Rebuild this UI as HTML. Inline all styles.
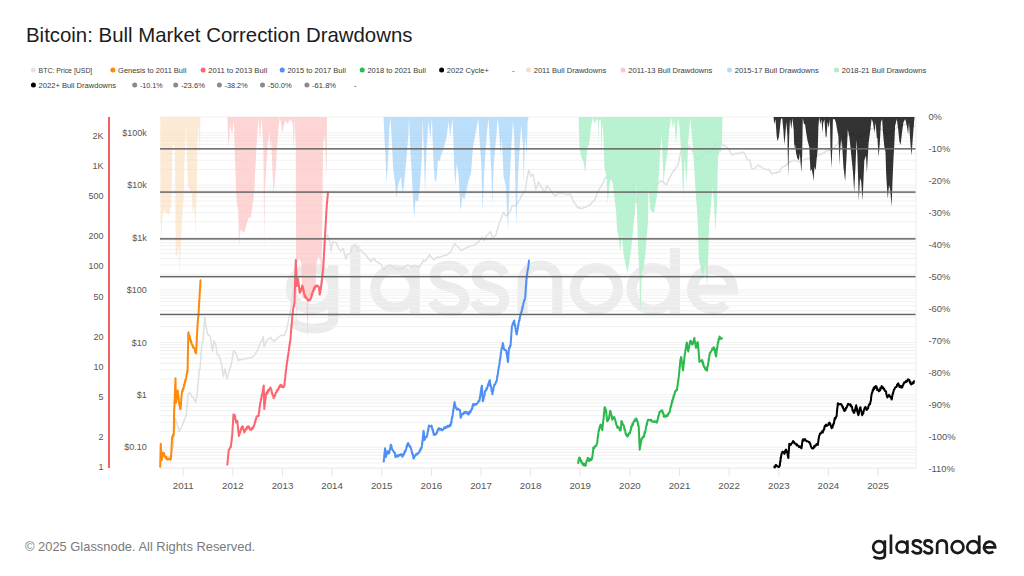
<!DOCTYPE html><html><head><meta charset="utf-8"><style>html,body{margin:0;padding:0;background:#fff;width:1024px;height:576px;overflow:hidden}svg{display:block}text{font-family:"Liberation Sans",sans-serif}</style></head><body>
<svg width="1024" height="576" viewBox="0 0 1024 576">
<text x="26" y="41.5" font-size="20.4" fill="#1c1c1c">Bitcoin: Bull Market Correction Drawdowns</text>
<text x="512" y="73" font-size="8" fill="#444">-</text>
<circle cx="33.4" cy="70" r="2.5" fill="#e3e3e3"/><text x="38.6" y="73" font-size="8" fill="#3a3a3a" textLength="53.7" lengthAdjust="spacingAndGlyphs">BTC: Price [USD]</text>
<circle cx="112.9" cy="70" r="2.5" fill="#fd8a08"/><text x="118.10000000000001" y="73" font-size="8" fill="#3a3a3a" textLength="68.2" lengthAdjust="spacingAndGlyphs">Genesis to 2011 Bull</text>
<circle cx="203.1" cy="70" r="2.5" fill="#fd6670"/><text x="208.29999999999998" y="73" font-size="8" fill="#3a3a3a" textLength="58.8" lengthAdjust="spacingAndGlyphs">2011 to 2013 Bull</text>
<circle cx="282.2" cy="70" r="2.5" fill="#4d8ff5"/><text x="287.4" y="73" font-size="8" fill="#3a3a3a" textLength="58.5" lengthAdjust="spacingAndGlyphs">2015 to 2017 Bull</text>
<circle cx="362.2" cy="70" r="2.5" fill="#2db84d"/><text x="367.4" y="73" font-size="8" fill="#3a3a3a" textLength="58.5" lengthAdjust="spacingAndGlyphs">2018 to 2021 Bull</text>
<circle cx="441.6" cy="70" r="2.5" fill="#000"/><text x="446.8" y="73" font-size="8" fill="#3a3a3a" textLength="42" lengthAdjust="spacingAndGlyphs">2022 Cycle+</text>
<circle cx="528.5" cy="70" r="2.5" fill="#fcdcbc"/><text x="533.7" y="73" font-size="8" fill="#3a3a3a" textLength="72.5" lengthAdjust="spacingAndGlyphs">2011 Bull Drawdowns</text>
<circle cx="623" cy="70" r="2.5" fill="#f9c9c9"/><text x="628.2" y="73" font-size="8" fill="#3a3a3a" textLength="84" lengthAdjust="spacingAndGlyphs">2011-13 Bull Drawdowns</text>
<circle cx="729.5" cy="70" r="2.5" fill="#b5dbfa"/><text x="734.7" y="73" font-size="8" fill="#3a3a3a" textLength="84" lengthAdjust="spacingAndGlyphs">2015-17 Bull Drawdowns</text>
<circle cx="836.5" cy="70" r="2.5" fill="#b0ecc9"/><text x="841.7" y="73" font-size="8" fill="#3a3a3a" textLength="84.5" lengthAdjust="spacingAndGlyphs">2018-21 Bull Drawdowns</text>
<circle cx="33.4" cy="85" r="2.5" fill="#000"/><text x="38.6" y="88" font-size="8" fill="#3a3a3a" textLength="77.4" lengthAdjust="spacingAndGlyphs">2022+ Bull Drawdowns</text>
<circle cx="134.7" cy="85" r="2.5" fill="#8a8a8a"/><text x="139.89999999999998" y="88" font-size="8" fill="#3a3a3a" textLength="22.8" lengthAdjust="spacingAndGlyphs">-10.1%</text>
<circle cx="175.7" cy="85" r="2.5" fill="#8a8a8a"/><text x="180.89999999999998" y="88" font-size="8" fill="#3a3a3a" textLength="24" lengthAdjust="spacingAndGlyphs">-23.6%</text>
<circle cx="219.4" cy="85" r="2.5" fill="#8a8a8a"/><text x="224.6" y="88" font-size="8" fill="#3a3a3a" textLength="23" lengthAdjust="spacingAndGlyphs">-38.2%</text>
<circle cx="262.5" cy="85" r="2.5" fill="#8a8a8a"/><text x="267.7" y="88" font-size="8" fill="#3a3a3a" textLength="24" lengthAdjust="spacingAndGlyphs">-50.0%</text>
<circle cx="306.9" cy="85" r="2.5" fill="#8a8a8a"/><text x="312.09999999999997" y="88" font-size="8" fill="#3a3a3a" textLength="24" lengthAdjust="spacingAndGlyphs">-61.8%</text>
<text x="354" y="88" font-size="8" fill="#444">-</text>
<rect x="108" y="117" width="2" height="351" fill="#f26464"/>
<text x="103.6" y="470.2" font-size="9" fill="#555" text-anchor="end">1</text>
<text x="103.6" y="440.0" font-size="9" fill="#555" text-anchor="end">2</text>
<text x="103.6" y="400.0" font-size="9" fill="#555" text-anchor="end">5</text>
<text x="103.6" y="369.8" font-size="9" fill="#555" text-anchor="end">10</text>
<text x="103.6" y="339.6" font-size="9" fill="#555" text-anchor="end">20</text>
<text x="103.6" y="299.6" font-size="9" fill="#555" text-anchor="end">50</text>
<text x="103.6" y="269.4" font-size="9" fill="#555" text-anchor="end">100</text>
<text x="103.6" y="239.2" font-size="9" fill="#555" text-anchor="end">200</text>
<text x="103.6" y="199.2" font-size="9" fill="#555" text-anchor="end">500</text>
<text x="103.6" y="169.0" font-size="9" fill="#555" text-anchor="end">1K</text>
<text x="103.6" y="138.8" font-size="9" fill="#555" text-anchor="end">2K</text>
<text x="146.8" y="450.4" font-size="9" fill="#555" text-anchor="end">$0.10</text>
<text x="146.8" y="398.0" font-size="9" fill="#555" text-anchor="end">$1</text>
<text x="146.8" y="345.6" font-size="9" fill="#555" text-anchor="end">$10</text>
<text x="146.8" y="293.2" font-size="9" fill="#555" text-anchor="end">$100</text>
<text x="146.8" y="240.8" font-size="9" fill="#555" text-anchor="end">$1k</text>
<text x="146.8" y="188.4" font-size="9" fill="#555" text-anchor="end">$10k</text>
<text x="146.8" y="136.0" font-size="9" fill="#555" text-anchor="end">$100k</text>
<text x="928.4" y="119.7" font-size="9.4" fill="#555">0%</text>
<text x="928.4" y="151.7" font-size="9.4" fill="#555">-10%</text>
<text x="928.4" y="183.8" font-size="9.4" fill="#555">-20%</text>
<text x="928.4" y="215.8" font-size="9.4" fill="#555">-30%</text>
<text x="928.4" y="247.8" font-size="9.4" fill="#555">-40%</text>
<text x="928.4" y="279.9" font-size="9.4" fill="#555">-50%</text>
<text x="928.4" y="311.9" font-size="9.4" fill="#555">-60%</text>
<text x="928.4" y="343.9" font-size="9.4" fill="#555">-70%</text>
<text x="928.4" y="376.0" font-size="9.4" fill="#555">-80%</text>
<text x="928.4" y="408.0" font-size="9.4" fill="#555">-90%</text>
<text x="928.4" y="440.0" font-size="9.4" fill="#555">-100%</text>
<text x="928.4" y="472.1" font-size="9.4" fill="#555">-110%</text>
<rect x="160" y="467.6" width="756" height="1" fill="#e6e6e6"/>
<rect x="182.7" y="468" width="1" height="8" fill="#e6e6e6"/>
<text x="183.2" y="489" font-size="9.7" fill="#555" text-anchor="middle">2011</text>
<rect x="232.3" y="468" width="1" height="8" fill="#e6e6e6"/>
<text x="232.8" y="489" font-size="9.7" fill="#555" text-anchor="middle">2012</text>
<rect x="282.0" y="468" width="1" height="8" fill="#e6e6e6"/>
<text x="282.5" y="489" font-size="9.7" fill="#555" text-anchor="middle">2013</text>
<rect x="331.6" y="468" width="1" height="8" fill="#e6e6e6"/>
<text x="332.1" y="489" font-size="9.7" fill="#555" text-anchor="middle">2014</text>
<rect x="381.2" y="468" width="1" height="8" fill="#e6e6e6"/>
<text x="381.7" y="489" font-size="9.7" fill="#555" text-anchor="middle">2015</text>
<rect x="430.9" y="468" width="1" height="8" fill="#e6e6e6"/>
<text x="431.4" y="489" font-size="9.7" fill="#555" text-anchor="middle">2016</text>
<rect x="480.5" y="468" width="1" height="8" fill="#e6e6e6"/>
<text x="481.0" y="489" font-size="9.7" fill="#555" text-anchor="middle">2017</text>
<rect x="530.1" y="468" width="1" height="8" fill="#e6e6e6"/>
<text x="530.6" y="489" font-size="9.7" fill="#555" text-anchor="middle">2018</text>
<rect x="579.7" y="468" width="1" height="8" fill="#e6e6e6"/>
<text x="580.2" y="489" font-size="9.7" fill="#555" text-anchor="middle">2019</text>
<rect x="629.4" y="468" width="1" height="8" fill="#e6e6e6"/>
<text x="629.9" y="489" font-size="9.7" fill="#555" text-anchor="middle">2020</text>
<rect x="679.0" y="468" width="1" height="8" fill="#e6e6e6"/>
<text x="679.5" y="489" font-size="9.7" fill="#555" text-anchor="middle">2021</text>
<rect x="728.6" y="468" width="1" height="8" fill="#e6e6e6"/>
<text x="729.1" y="489" font-size="9.7" fill="#555" text-anchor="middle">2022</text>
<rect x="778.3" y="468" width="1" height="8" fill="#e6e6e6"/>
<text x="778.8" y="489" font-size="9.7" fill="#555" text-anchor="middle">2023</text>
<rect x="827.9" y="468" width="1" height="8" fill="#e6e6e6"/>
<text x="828.4" y="489" font-size="9.7" fill="#555" text-anchor="middle">2024</text>
<rect x="877.5" y="468" width="1" height="8" fill="#e6e6e6"/>
<text x="878.0" y="489" font-size="9.7" fill="#555" text-anchor="middle">2025</text>
<g fill="none" stroke="#ebebeb" stroke-width="2.8" transform="translate(-2869.9,-1626) scale(3.62,3.5)"><circle cx="879" cy="547" r="5.85"/><path d="M884.85,540.3 V555.6 Q884.85,558.45 879.2,558.45 Q875.6,558.45 873.6,556.6"/><path d="M890.95,534.5 V554"/><circle cx="901.9" cy="547" r="5.45"/><path d="M907.35,540.3 V554"/><path d="M921.3,543 C920.3,541.3 918.8,540.4 916.9,540.4 C914.4,540.4 912.9,541.7 912.9,543.4 C912.9,547.4 921.1,545.6 921.1,550.2 C921.1,552.3 919.3,553.4 917,553.4 C914.8,553.4 913.2,552.4 912.1,550.6"/><path d="M932.2,543 C931.3,541.3 929.9,540.4 928.2,540.4 C925.9,540.4 924.5,541.7 924.5,543.4 C924.5,547.4 932.1,545.6 932.1,550.2 C932.1,552.3 930.4,553.4 928.3,553.4 C926.3,553.4 924.8,552.4 923.8,550.6"/><path d="M937.15,554 V545.3 C937.15,542.2 939.3,540.4 942,540.4 C944.9,540.4 946.75,542.2 946.75,545.3 V554"/><circle cx="957.55" cy="547.1" r="5.95"/><circle cx="973.2" cy="547.1" r="5.95"/><path d="M979.25,535.4 V554"/><path d="M984.1,547.3 H995.2 A5.6,5.6 0 1 0 993.3,551.5"/></g>
<rect x="160" y="116.5" width="756" height="1" fill="#f1f1f1"/>
<rect x="160" y="132.3" width="756" height="1" fill="#f1f1f1"/>
<rect x="160" y="134.7" width="756" height="1" fill="#f1f1f1"/>
<rect x="160" y="137.4" width="756" height="1" fill="#f1f1f1"/>
<rect x="160" y="140.4" width="756" height="1" fill="#f1f1f1"/>
<rect x="160" y="143.9" width="756" height="1" fill="#f1f1f1"/>
<rect x="160" y="148.1" width="756" height="1" fill="#f1f1f1"/>
<rect x="160" y="153.2" width="756" height="1" fill="#f1f1f1"/>
<rect x="160" y="159.7" width="756" height="1" fill="#f1f1f1"/>
<rect x="160" y="168.9" width="756" height="1" fill="#f1f1f1"/>
<rect x="160" y="184.7" width="756" height="1" fill="#f1f1f1"/>
<rect x="160" y="187.1" width="756" height="1" fill="#f1f1f1"/>
<rect x="160" y="189.8" width="756" height="1" fill="#f1f1f1"/>
<rect x="160" y="192.8" width="756" height="1" fill="#f1f1f1"/>
<rect x="160" y="196.3" width="756" height="1" fill="#f1f1f1"/>
<rect x="160" y="200.5" width="756" height="1" fill="#f1f1f1"/>
<rect x="160" y="205.6" width="756" height="1" fill="#f1f1f1"/>
<rect x="160" y="212.1" width="756" height="1" fill="#f1f1f1"/>
<rect x="160" y="221.3" width="756" height="1" fill="#f1f1f1"/>
<rect x="160" y="237.1" width="756" height="1" fill="#f1f1f1"/>
<rect x="160" y="239.5" width="756" height="1" fill="#f1f1f1"/>
<rect x="160" y="242.2" width="756" height="1" fill="#f1f1f1"/>
<rect x="160" y="245.2" width="756" height="1" fill="#f1f1f1"/>
<rect x="160" y="248.7" width="756" height="1" fill="#f1f1f1"/>
<rect x="160" y="252.9" width="756" height="1" fill="#f1f1f1"/>
<rect x="160" y="258.0" width="756" height="1" fill="#f1f1f1"/>
<rect x="160" y="264.5" width="756" height="1" fill="#f1f1f1"/>
<rect x="160" y="273.7" width="756" height="1" fill="#f1f1f1"/>
<rect x="160" y="289.5" width="756" height="1" fill="#f1f1f1"/>
<rect x="160" y="291.9" width="756" height="1" fill="#f1f1f1"/>
<rect x="160" y="294.6" width="756" height="1" fill="#f1f1f1"/>
<rect x="160" y="297.6" width="756" height="1" fill="#f1f1f1"/>
<rect x="160" y="301.1" width="756" height="1" fill="#f1f1f1"/>
<rect x="160" y="305.3" width="756" height="1" fill="#f1f1f1"/>
<rect x="160" y="310.4" width="756" height="1" fill="#f1f1f1"/>
<rect x="160" y="316.9" width="756" height="1" fill="#f1f1f1"/>
<rect x="160" y="326.1" width="756" height="1" fill="#f1f1f1"/>
<rect x="160" y="341.9" width="756" height="1" fill="#f1f1f1"/>
<rect x="160" y="344.3" width="756" height="1" fill="#f1f1f1"/>
<rect x="160" y="347.0" width="756" height="1" fill="#f1f1f1"/>
<rect x="160" y="350.0" width="756" height="1" fill="#f1f1f1"/>
<rect x="160" y="353.5" width="756" height="1" fill="#f1f1f1"/>
<rect x="160" y="357.7" width="756" height="1" fill="#f1f1f1"/>
<rect x="160" y="362.8" width="756" height="1" fill="#f1f1f1"/>
<rect x="160" y="369.3" width="756" height="1" fill="#f1f1f1"/>
<rect x="160" y="378.5" width="756" height="1" fill="#f1f1f1"/>
<rect x="160" y="394.3" width="756" height="1" fill="#f1f1f1"/>
<rect x="160" y="396.7" width="756" height="1" fill="#f1f1f1"/>
<rect x="160" y="399.4" width="756" height="1" fill="#f1f1f1"/>
<rect x="160" y="402.4" width="756" height="1" fill="#f1f1f1"/>
<rect x="160" y="405.9" width="756" height="1" fill="#f1f1f1"/>
<rect x="160" y="410.1" width="756" height="1" fill="#f1f1f1"/>
<rect x="160" y="415.2" width="756" height="1" fill="#f1f1f1"/>
<rect x="160" y="421.7" width="756" height="1" fill="#f1f1f1"/>
<rect x="160" y="430.9" width="756" height="1" fill="#f1f1f1"/>
<rect x="160" y="446.7" width="756" height="1" fill="#f1f1f1"/>
<rect x="160" y="449.1" width="756" height="1" fill="#f1f1f1"/>
<rect x="160" y="451.8" width="756" height="1" fill="#f1f1f1"/>
<rect x="160" y="454.8" width="756" height="1" fill="#f1f1f1"/>
<rect x="160" y="458.3" width="756" height="1" fill="#f1f1f1"/>
<rect x="160" y="462.5" width="756" height="1" fill="#f1f1f1"/>
<polyline points="160.2,462.0 160.6,460.8 161.0,459.6 161.4,459.2 161.8,457.5 162.2,457.0 162.6,455.8 163.0,455.0 163.8,455.2 164.5,456.5 165.2,456.7 166.0,458.0 167.0,457.7 168.0,457.0 169.0,456.8 170.0,457.0 170.3,455.9 170.6,455.3 171.0,453.4 171.3,452.5 171.6,452.0 171.9,451.3 172.2,449.8 172.6,448.6 172.9,448.2 173.2,446.6 173.3,445.1 173.4,445.0 173.4,443.3 173.5,442.2 173.6,441.1 173.7,440.4 173.8,440.0 173.9,438.2 173.9,437.7 174.0,436.8 174.1,435.4 174.2,434.7 174.3,433.1 174.3,432.1 174.4,431.2 174.5,430.8 174.6,429.5 174.7,428.4 174.8,427.7 174.8,426.5 174.9,425.4 175.0,425.0 175.1,423.8 175.2,422.3 175.3,421.7 175.3,420.6 175.4,420.1 175.5,418.6 175.8,419.9 176.1,420.3 176.4,422.2 176.7,422.1 177.0,423.5 177.3,424.9 177.5,425.2 177.8,426.6 178.1,427.0 178.4,428.8 178.7,429.9 179.0,430.7 179.3,431.6 179.7,431.1 180.2,429.4 180.6,428.9 181.1,427.8 181.5,426.8 181.9,425.7 182.4,425.2 182.8,423.8 183.2,423.4 183.6,421.8 184.0,421.1 184.3,419.4 184.7,419.2 185.1,418.1 185.5,417.5 185.9,416.4 186.2,415.0 186.3,413.7 186.4,412.8 186.5,412.1 186.6,410.3 186.7,409.8 186.8,408.4 186.9,407.3 186.9,406.2 187.0,406.0 187.1,404.2 187.2,403.3 187.3,402.4 187.4,402.0 187.5,400.0 187.6,399.4 187.7,398.5 187.7,397.9 187.8,396.8 187.9,395.8 188.0,394.3 188.8,393.2 189.7,392.6 190.3,393.4 190.8,394.1 191.4,395.6 191.9,396.6 192.5,396.5 193.0,397.3 193.6,398.3 194.1,399.1 194.7,400.3 195.2,401.3 195.8,402.0 196.0,400.7 196.1,399.4 196.3,398.8 196.4,397.8 196.6,397.0 196.7,396.4 196.9,395.1 197.0,393.9 197.2,393.0 197.3,392.0 197.5,390.8 197.6,389.2 197.7,389.2 197.8,388.0 197.9,387.1 197.9,386.0 198.0,384.4 198.1,383.4 198.2,382.0 198.3,381.6 198.4,379.9 198.5,378.8 198.6,378.0 198.7,376.9 198.8,376.0 198.9,374.7 198.9,373.6 199.0,372.7 199.1,371.6 199.2,370.9 199.3,370.0 200.0,368.8 200.1,367.1 200.2,367.1 200.2,365.8 200.3,364.2 200.4,363.3 200.5,362.3 200.5,361.3 200.6,360.0 200.7,359.8 200.8,358.9 200.8,357.3 200.9,356.2 201.0,354.7 201.1,353.7 201.1,353.0 201.2,351.8 201.3,351.5 201.4,349.6 201.4,348.4 201.5,348.5 201.6,346.9 201.8,345.9 202.0,344.5 202.2,344.0 202.3,342.4 202.5,342.0 202.7,341.5 202.9,340.4 203.1,339.0 203.2,338.2 203.3,336.6 203.3,335.7 203.4,334.4 203.5,334.1 203.6,332.8 203.6,332.1 203.7,330.5 203.8,329.3 203.9,329.0 203.9,328.2 204.0,327.0 204.1,325.9 204.2,324.8 204.2,323.7 204.3,322.1 204.4,321.4 204.5,320.1 204.5,318.7 204.6,317.7 204.7,317.2 204.8,317.9 205.0,318.9 205.1,320.4 205.3,321.7 205.4,322.1 205.5,323.7 205.7,324.7 205.8,325.7 206.0,326.0 206.1,326.8 206.2,328.1 206.5,328.8 206.8,329.8 207.0,330.9 207.3,332.4 207.5,333.8 207.8,334.4 209.0,335.6 210.2,335.9 210.4,336.9 210.5,338.2 210.7,339.4 210.8,339.6 211.0,341.3 211.1,342.7 211.3,343.6 211.4,344.6 211.6,345.3 211.7,346.0 211.9,347.8 212.0,348.3 212.2,349.9 212.3,351.1 212.5,351.6 212.6,350.5 212.8,349.5 212.9,349.1 213.1,347.9 213.2,346.2 213.4,345.2 213.5,344.2 213.7,344.1 213.8,343.0 214.0,341.2 214.1,340.6 214.6,342.0 215.1,343.3 215.6,343.8 215.7,344.9 215.9,345.6 216.0,346.8 216.2,347.3 216.3,348.1 216.5,350.3 216.6,350.9 216.8,351.7 216.9,353.2 217.1,353.6 217.2,354.7 218.8,354.7 219.0,356.1 219.3,357.1 219.6,357.3 219.9,358.4 220.2,359.4 220.5,360.3 220.8,361.7 221.0,362.3 221.3,363.5 221.6,364.2 221.9,365.6 222.0,367.1 222.2,367.4 222.3,368.5 222.4,369.7 222.6,371.1 222.7,371.5 222.9,373.1 223.0,373.6 223.1,374.6 223.3,375.6 223.4,376.6 223.6,375.0 223.8,374.6 224.0,373.3 224.2,372.1 224.4,372.1 224.6,370.3 224.8,369.7 225.0,368.8 225.2,370.0 225.4,370.8 225.6,371.6 225.8,372.8 225.9,373.9 226.1,375.2 226.3,375.4 226.5,376.9 226.7,377.6 226.9,378.9 227.2,377.6 227.5,377.2 227.8,375.9 228.0,375.0 228.3,374.2 228.6,373.4 228.9,371.9 229.2,370.9 229.5,370.1 229.8,369.0 230.1,368.0 230.4,367.3 230.7,366.0 231.0,365.1 231.2,364.1 231.4,363.1 231.6,362.6 231.8,361.3 232.0,360.5 232.2,359.5 232.3,357.7 232.5,357.0 232.7,356.4 232.9,355.3 233.1,353.4 233.2,352.4 233.4,351.8 233.6,350.8 234.4,351.1 235.1,352.0 235.9,353.1 236.2,353.6 236.5,355.3 236.8,356.4 237.1,357.5 237.4,357.6 237.7,359.2 238.0,360.1 238.3,360.9 239.4,359.7 240.6,359.4 241.8,359.7 242.9,359.6 244.1,358.5 245.3,358.6 246.5,358.9 247.7,358.1 248.8,358.0 250.0,357.8 251.0,358.0 251.9,357.4 252.9,356.2 253.9,356.2 254.5,355.3 255.0,354.5 255.6,353.4 256.1,352.3 256.7,351.6 257.2,351.2 257.8,350.0 258.2,348.4 258.6,348.1 259.0,347.0 259.4,345.5 259.7,344.9 260.1,344.3 260.5,343.2 260.9,342.2 261.3,340.8 261.7,340.9 262.1,339.8 262.5,339.1 262.9,337.1 263.3,336.7 263.4,337.4 263.5,338.2 263.5,340.1 263.6,340.5 263.7,341.4 263.8,342.7 263.9,344.3 263.9,345.2 264.0,345.6 264.1,346.9 264.5,345.5 265.0,345.4 265.4,343.9 265.9,343.1 266.3,341.3 266.8,340.3 267.2,339.8 268.2,339.3 269.3,338.2 270.3,337.5 271.1,337.8 271.9,339.6 272.6,340.0 273.4,341.0 274.2,341.4 275.0,340.1 275.8,340.3 276.5,338.5 277.3,338.7 278.1,337.5 279.2,336.7 280.2,335.8 281.2,335.2 282.3,335.3 283.3,335.7 284.4,335.2 284.9,333.8 285.3,332.6 285.8,331.9 286.2,330.5 286.7,329.7 286.9,328.2 287.1,327.2 287.4,326.0 287.6,325.2 287.8,324.3 288.0,323.2 288.2,322.7 288.5,321.1 288.7,320.3 288.9,318.9 289.1,318.1 289.3,316.6 289.6,315.9 289.8,314.6 290.0,314.1 290.1,313.4 290.3,312.1 290.4,310.7 290.6,310.0 290.7,309.6 290.9,307.6 291.0,307.4 291.1,306.0 291.3,305.0 291.4,304.4 291.6,302.9 291.7,302.0 291.9,301.2 292.0,300.0 292.1,299.6 292.3,297.8 292.4,297.4 292.5,296.2 292.7,295.2 292.8,293.9 292.9,292.8 293.1,291.5 293.2,290.6 293.3,289.5 293.5,289.3 293.6,287.7 293.7,286.6 293.9,285.5 294.0,285.0 294.1,284.4 294.2,283.4 294.2,282.2 294.3,280.7 294.4,279.7 294.5,278.8 294.5,278.0 294.6,276.6 294.7,275.9 294.8,274.7 294.9,274.6 294.9,273.6 295.0,272.1 295.1,270.7 295.2,270.6 295.3,268.8 295.3,267.8 295.4,266.4 295.5,265.9 295.6,265.0 295.6,264.0 295.7,262.6 295.8,262.0 295.9,263.0 296.0,263.4 296.1,264.7 296.2,265.5 296.3,266.9 296.4,267.5 296.4,268.4 296.5,269.8 296.6,270.7 296.7,272.1 296.8,273.0 296.9,274.3 297.0,275.0 297.2,276.2 297.4,277.3 297.6,278.5 297.8,278.9 298.0,279.8 298.2,281.6 298.4,281.6 298.6,283.3 298.8,284.2 299.0,284.5 299.2,286.4 299.4,287.5 299.6,288.2 299.8,289.3 300.0,290.0 300.8,291.0 301.7,290.9 302.5,292.0 303.3,292.7 304.2,293.7 305.0,294.0 306.0,294.8 307.0,295.2 308.0,295.3 309.0,296.1 310.0,296.0 310.5,295.3 311.0,294.4 311.5,292.9 312.0,291.8 312.5,291.0 313.0,290.3 313.5,289.1 314.0,289.1 314.5,287.8 315.0,287.0 315.5,286.1 316.0,285.0 316.7,286.1 317.3,286.7 318.0,286.9 318.7,288.7 319.3,289.5 320.0,290.0 320.1,289.0 320.3,288.0 320.4,287.2 320.5,285.5 320.7,285.3 320.8,283.7 320.9,282.5 321.1,281.7 321.2,281.3 321.3,279.6 321.5,279.3 321.6,278.6 321.7,277.0 321.9,275.9 322.0,275.0 322.1,274.2 322.3,273.3 322.4,272.1 322.5,271.2 322.7,269.5 322.8,268.6 322.9,267.7 323.1,267.3 323.2,266.0 323.3,264.8 323.3,264.1 323.4,262.4 323.5,261.5 323.5,260.7 323.6,260.2 323.7,259.2 323.8,258.2 323.8,256.7 323.9,256.0 324.0,255.0 324.0,254.0 324.1,252.5 324.2,252.5 324.2,250.6 324.3,250.6 324.4,249.5 324.4,247.4 324.5,247.0 324.6,246.4 324.7,245.6 324.7,243.9 324.8,242.7 324.9,241.7 324.9,241.5 325.0,240.0 325.5,238.6 326.0,238.0 326.5,236.4 327.0,235.8 327.5,234.8 327.8,236.3 328.1,236.3 328.5,238.1 328.8,238.7 329.1,240.1 329.5,240.9 329.8,241.3 330.1,242.6 330.2,244.2 330.3,244.7 330.4,245.3 330.6,246.3 330.7,248.0 330.8,249.0 330.9,249.9 331.0,251.2 331.2,249.8 331.4,248.9 331.6,247.8 331.8,247.4 332.0,245.3 332.2,245.2 332.4,244.2 332.6,242.3 332.8,241.7 333.9,242.5 335.1,242.6 336.2,242.6 336.6,244.1 337.1,244.3 337.5,245.4 337.9,246.5 338.4,248.2 338.8,248.6 339.4,249.6 340.0,250.2 340.6,251.2 341.5,250.3 342.3,249.2 343.2,248.6 343.5,249.1 343.7,250.2 344.0,252.1 344.2,252.5 344.5,254.3 344.8,254.5 345.0,255.6 345.3,256.9 345.5,257.6 345.8,259.0 346.2,257.8 346.6,257.4 347.1,256.2 347.5,254.7 348.4,254.5 349.2,253.7 350.1,253.0 350.5,252.5 350.8,251.5 351.2,250.1 351.6,249.3 352.0,247.5 352.3,247.3 352.7,246.0 353.6,245.4 354.4,245.2 355.3,244.3 355.7,245.5 356.2,246.1 356.6,246.8 357.0,248.9 357.5,248.9 357.9,250.4 359.1,250.4 360.2,250.2 361.4,250.4 362.3,251.0 363.1,252.4 364.0,253.6 364.9,253.9 365.6,254.5 366.3,255.8 366.9,256.2 367.6,257.4 368.3,258.2 368.9,258.9 369.6,259.6 370.2,260.4 370.9,261.7 371.5,260.5 372.2,260.4 372.9,259.1 373.5,258.2 374.4,258.7 375.2,260.4 376.1,261.4 377.0,261.7 377.9,262.3 378.8,262.6 379.6,263.4 380.5,263.9 381.4,265.1 381.8,266.0 382.2,266.7 382.7,267.9 383.1,269.0 383.5,270.3 384.2,269.5 384.9,269.0 385.5,268.0 386.2,266.7 386.9,265.9 388.1,265.5 389.2,265.3 390.4,265.0 391.3,265.5 392.1,266.2 393.0,266.5 393.9,267.7 395.1,268.0 396.2,269.4 397.4,269.4 398.4,268.8 399.5,269.0 400.5,269.0 401.6,269.1 402.6,268.5 403.5,267.6 404.3,267.1 405.2,266.4 406.1,266.0 406.9,265.5 407.8,265.0 408.9,266.1 410.1,266.6 411.2,266.8 412.4,266.9 413.6,265.6 414.7,265.9 415.7,265.5 416.8,266.5 417.8,266.9 418.9,266.6 419.9,266.8 420.4,265.9 420.9,264.2 421.4,263.7 421.9,263.4 422.4,262.3 422.9,261.3 423.4,259.9 424.7,260.9 426.0,260.7 426.6,259.4 427.2,258.2 427.8,257.3 428.3,256.7 428.9,255.9 429.5,254.7 430.2,256.1 430.9,256.7 431.6,257.5 432.4,258.5 433.1,259.0 433.8,259.9 434.7,259.3 435.6,258.0 436.4,258.3 437.3,257.3 438.3,256.8 439.4,257.4 440.4,256.9 441.5,256.3 442.5,256.4 443.5,255.6 444.6,255.4 445.6,255.5 446.7,255.2 447.7,254.7 448.6,253.3 449.4,252.4 450.3,252.1 451.2,251.2 451.6,250.3 452.1,249.1 452.5,247.9 452.9,247.4 453.4,245.7 453.8,245.1 454.2,244.3 454.6,243.4 455.5,244.8 456.4,245.3 457.3,246.0 458.0,247.3 458.7,247.7 459.3,248.3 460.0,249.1 460.7,250.3 461.8,250.4 462.9,249.7 464.0,248.8 465.1,248.6 466.1,247.5 467.2,247.6 468.2,247.2 469.3,246.4 470.3,246.0 471.5,245.4 472.6,245.5 473.8,245.5 475.0,244.6 475.9,243.6 476.8,242.7 477.6,242.5 478.5,242.0 479.1,241.0 479.6,240.5 480.2,239.0 480.8,238.9 481.3,238.0 481.9,236.8 482.5,238.0 483.1,238.8 483.7,240.3 484.3,240.0 484.9,238.3 485.4,238.1 486.0,236.5 486.6,235.6 487.2,235.1 488.1,234.5 488.9,233.1 489.8,233.0 490.6,231.6 490.9,232.6 491.1,233.2 491.4,234.2 491.6,235.4 491.9,236.7 492.1,238.1 492.4,238.5 493.2,237.2 494.1,236.7 494.9,235.6 495.8,235.1 496.1,234.7 496.4,232.6 496.7,231.5 497.0,230.5 497.3,229.9 497.6,229.5 497.8,228.4 498.1,227.2 498.4,226.5 498.7,225.5 499.0,223.7 499.3,222.9 499.7,221.6 500.1,221.5 500.5,220.4 500.9,218.6 501.3,218.4 501.6,217.1 502.0,216.1 502.4,215.1 502.8,214.0 503.2,212.8 503.6,212.5 504.3,213.1 504.9,214.1 505.6,215.7 506.2,216.0 507.1,214.7 508.0,214.8 508.8,213.0 509.7,212.5 510.1,211.3 510.4,210.9 510.8,209.9 511.2,208.5 511.6,207.0 511.9,206.6 512.3,205.6 513.5,205.4 514.6,206.1 515.8,205.6 516.4,204.3 517.0,203.7 517.5,203.4 518.1,201.5 518.7,201.1 519.3,200.3 519.8,199.6 520.3,198.5 520.9,196.6 521.4,195.6 521.9,195.1 522.5,193.7 523.0,193.9 523.6,192.2 524.2,191.9 524.8,191.2 525.4,189.9 525.5,188.7 525.6,187.6 525.8,187.4 525.9,186.0 526.1,184.6 526.2,184.1 526.4,182.6 526.5,181.6 526.7,180.2 526.8,180.1 527.0,179.3 527.1,177.8 527.3,176.8 527.6,176.1 527.8,173.9 528.1,173.0 528.3,172.2 528.6,171.7 528.8,170.0 529.1,171.5 529.4,171.9 529.7,172.7 530.0,173.9 530.3,175.0 530.6,176.0 531.5,175.9 532.3,174.5 533.2,174.3 533.4,175.7 533.5,176.7 533.7,177.8 533.9,178.8 534.1,179.6 534.2,180.3 534.4,181.4 534.6,182.5 534.8,184.0 534.9,184.2 535.1,185.4 535.3,187.1 535.5,187.5 535.6,188.3 535.8,189.9 536.1,188.4 536.4,188.0 536.8,186.8 537.1,186.6 537.4,185.5 537.8,184.6 538.1,182.8 538.4,182.1 538.9,182.5 539.4,183.4 540.0,184.7 540.5,185.9 541.0,186.5 541.6,187.4 542.1,188.2 542.7,189.4 543.3,190.6 543.8,191.7 544.4,192.5 544.8,191.8 545.1,190.9 545.5,189.7 545.9,188.1 546.3,188.0 546.6,186.3 547.0,185.6 547.6,186.6 548.3,187.2 548.9,188.5 549.5,188.7 550.1,189.7 550.8,190.5 551.4,191.7 552.1,192.1 552.8,193.9 553.5,194.4 554.2,194.9 554.9,196.0 555.8,195.3 556.6,195.4 557.5,194.3 558.4,193.3 559.2,193.5 560.1,192.5 561.1,193.0 562.2,193.8 563.2,193.1 564.3,193.9 565.3,194.3 566.5,194.6 567.6,194.6 568.8,194.6 570.0,194.0 570.5,194.4 571.0,195.7 571.4,196.4 571.9,197.5 572.4,199.4 572.8,199.9 573.3,201.3 573.8,201.7 574.4,202.5 575.1,204.0 575.7,204.5 576.3,205.2 577.0,206.8 577.6,207.4 578.6,208.2 579.5,207.4 580.5,208.3 581.5,208.4 582.8,208.2 584.0,207.4 585.3,207.4 586.2,206.8 587.2,206.0 588.1,205.6 589.1,205.5 589.8,204.5 590.5,204.2 591.2,203.5 592.0,202.3 592.7,201.4 593.4,201.0 594.1,200.7 594.8,199.8 595.2,198.5 595.6,197.7 595.9,196.6 596.3,196.3 596.7,195.1 597.1,193.5 597.5,192.6 597.8,192.0 598.2,191.2 598.6,190.2 599.2,189.4 599.8,187.8 600.4,186.9 601.0,186.6 601.6,185.3 602.2,184.2 602.8,183.3 603.4,182.6 603.7,181.9 604.1,179.8 604.4,178.8 605.3,178.2 606.2,177.2 607.1,176.6 608.0,176.0 608.8,177.2 609.6,178.2 610.4,178.2 611.2,178.8 612.0,180.0 612.8,180.9 613.6,180.8 614.4,181.2 615.2,182.9 616.0,183.0 616.7,183.7 617.3,185.1 618.0,185.4 618.7,186.8 619.3,187.1 620.0,188.0 620.8,188.2 621.6,188.6 622.4,189.9 623.2,190.6 624.0,191.0 625.0,192.0 626.0,191.5 627.0,192.6 628.0,193.0 628.6,191.8 629.2,191.0 629.8,189.6 630.4,188.7 631.0,188.0 631.5,187.0 632.0,186.5 632.5,184.5 633.0,184.0 633.2,185.0 633.5,186.4 633.8,187.6 634.0,187.6 634.2,188.6 634.5,190.5 634.8,191.6 635.0,192.0 635.1,193.0 635.3,193.5 635.4,195.5 635.5,195.9 635.7,197.5 635.8,198.1 636.0,199.4 636.1,199.6 636.2,201.3 636.4,201.7 636.5,203.0 636.7,201.9 636.9,201.4 637.1,200.4 637.4,198.6 637.6,197.7 637.8,196.9 638.0,196.0 638.6,195.0 639.2,193.9 639.8,192.5 640.4,191.7 641.0,191.0 641.8,190.7 642.6,190.3 643.4,188.6 644.2,188.7 645.0,188.0 646.0,188.6 647.0,187.9 648.0,189.2 649.0,189.0 650.0,187.9 651.0,187.8 652.0,187.0 653.0,186.9 654.0,186.8 655.0,186.4 655.7,185.5 656.4,184.9 657.1,184.4 657.9,183.5 658.6,183.0 659.3,182.1 660.0,181.3 660.7,180.7 661.7,180.8 662.6,182.1 663.6,182.6 664.6,182.9 665.5,184.2 666.5,184.5 667.0,183.9 667.5,182.5 667.9,181.2 668.4,180.6 668.9,179.2 669.4,178.3 669.8,177.7 670.3,176.3 670.8,175.8 671.2,174.9 671.7,173.4 672.2,173.0 672.8,172.3 673.5,170.8 674.1,170.7 674.7,170.0 675.4,168.8 676.0,167.4 676.6,167.1 677.3,166.1 677.9,165.4 678.1,164.9 678.3,162.9 678.6,162.7 678.8,161.9 679.0,160.5 679.2,159.6 679.5,157.8 679.7,157.7 679.9,156.1 680.1,155.6 680.4,154.6 680.6,152.6 680.8,152.0 681.1,151.4 681.4,150.6 681.8,148.6 682.1,148.0 682.4,147.6 682.7,146.3 683.8,146.5 684.9,147.9 686.0,148.0 687.1,147.2 688.3,147.2 689.4,146.3 690.0,146.8 690.7,148.2 691.4,149.6 692.0,150.0 692.4,150.6 692.9,151.7 693.3,153.0 693.7,153.8 694.1,154.4 694.6,155.6 695.0,157.0 695.8,157.3 696.5,159.0 697.2,159.5 698.0,160.0 698.8,159.9 699.6,158.4 700.4,158.5 701.2,157.1 702.0,157.0 702.6,156.2 703.1,155.4 703.7,154.3 704.3,154.0 704.9,152.8 705.4,152.0 706.0,151.0 707.0,152.0 708.0,151.5 709.0,153.1 710.0,153.0 710.5,152.3 711.0,151.1 711.5,150.7 712.0,149.2 712.5,149.2 713.0,147.8 713.5,146.7 714.0,146.0 714.6,145.3 715.2,143.9 715.8,142.6 716.4,142.3 717.0,141.0 718.0,141.0 719.0,142.0 719.9,143.0 720.9,143.0 721.8,144.1 722.8,145.1 723.7,145.2 724.7,146.0 725.6,146.4 726.5,147.1 727.4,147.7 728.3,149.2 728.9,149.5 729.5,150.6 730.1,152.0 730.7,152.7 731.3,153.6 731.9,155.0 732.5,155.4 733.4,154.3 734.4,153.7 735.3,153.3 736.3,153.7 737.3,153.1 738.4,153.2 739.4,154.0 740.3,153.2 741.3,152.2 742.2,152.0 743.1,152.5 744.1,153.0 745.0,154.0 745.4,155.2 745.8,156.3 746.3,157.0 746.7,158.6 747.1,159.6 748.5,159.9 749.9,160.3 750.1,160.9 750.4,162.9 750.6,163.1 750.9,164.0 751.1,165.0 751.4,166.7 751.6,168.0 751.9,168.6 753.3,168.9 754.7,168.6 755.6,167.6 756.5,166.6 757.3,165.4 758.2,165.1 759.1,165.8 760.0,166.2 760.8,166.5 761.7,167.2 762.8,168.1 764.0,168.5 765.1,169.3 766.3,169.8 767.4,169.6 768.6,169.3 769.2,169.8 769.8,171.4 770.4,171.2 770.9,172.6 771.5,173.3 772.1,174.2 773.3,173.4 774.4,172.7 775.6,172.8 776.6,173.0 777.7,171.9 778.7,172.3 779.7,172.1 780.1,171.6 780.5,169.7 781.0,168.8 781.4,168.3 781.8,167.2 782.8,166.8 783.8,166.5 784.7,166.3 785.7,165.1 786.7,165.1 787.5,164.1 788.3,163.2 789.2,162.1 790.0,162.3 790.8,161.0 791.8,161.2 792.9,160.9 794.0,159.9 795.0,160.3 796.0,161.0 797.1,161.2 798.1,161.2 799.2,161.9 800.2,161.9 801.2,161.3 802.2,160.6 803.2,159.9 804.2,159.6 805.2,159.4 806.2,158.6 807.2,158.7 808.3,158.9 809.3,158.6 810.3,158.1 811.3,158.3 812.3,157.8 813.4,157.0 814.4,157.1 815.4,156.8 816.4,156.2 817.4,156.1 818.5,155.3 819.5,154.5 820.5,154.3 821.5,154.0 822.5,153.8 823.5,152.4 824.5,152.7 825.5,151.7 826.5,150.8 827.5,150.8 828.4,150.5 829.4,150.5 830.4,150.2 831.3,149.8 832.2,148.9 833.2,147.8 834.1,147.8 835.1,146.7 835.9,145.5 836.7,144.5 837.4,144.3 838.2,142.9 839.1,142.2 839.9,141.4 840.8,140.3 841.7,139.8 842.5,139.4 843.4,138.1 844.3,137.8 845.1,137.0 846.0,136.0 847.0,135.9 848.0,134.9 849.0,134.8 850.0,134.1 851.0,133.3 852.0,133.0 852.9,133.4 853.7,134.6 854.6,134.6 855.4,136.4 856.3,136.1 857.1,136.7 858.0,138.0 859.0,137.0 860.0,137.5 861.0,136.3 862.0,135.6 863.0,134.9 864.0,135.0 864.8,133.7 865.5,133.7 866.2,132.9 867.0,132.2 867.8,131.5 868.5,130.0 869.2,129.9 870.0,129.0 871.0,128.7 872.0,129.0 873.0,128.9 874.0,128.8 875.0,127.6 876.0,128.0 877.0,128.8 878.0,129.2 879.0,129.5 880.0,128.9 881.0,129.3 882.0,130.0 882.9,130.1 883.7,130.6 884.6,132.1 885.4,132.7 886.3,133.0 887.1,133.8 888.0,134.0 888.9,133.6 889.7,132.6 890.6,131.8 891.4,131.2 892.3,131.5 893.1,130.2 894.0,130.0 894.9,129.2 895.7,128.8 896.6,127.7 897.4,127.4 898.3,126.9 899.1,126.8 900.0,126.0 901.0,125.5 902.0,125.1 903.0,125.6 904.0,124.7 905.0,124.8 906.0,124.0 907.0,124.6 908.0,124.4 909.0,125.4 910.0,125.9 911.0,126.8 912.0,127.0 913.0,126.5 914.0,126.6 915.0,126.0" fill="none" stroke="#e0e0e0" stroke-width="1.5" stroke-linejoin="round"/>
<polygon points="160.2,117.0 160.5,215.0 161.2,248.0 162.0,222.0 163.2,211.0 165.8,212.0 167.5,213.9 169.3,214.7 171.0,206.0 171.9,180.0 172.3,150.0 173.5,141.0 174.8,150.0 175.4,200.0 175.7,259.9 178.8,246.0 179.7,274.6 181.1,237.3 182.3,214.7 183.7,197.4 184.5,160.0 185.5,135.0 186.2,124.0 187.0,160.0 188.0,186.0 190.0,190.0 191.9,195.0 192.7,214.7 194.5,206.0 195.3,237.3 197.0,180.0 197.5,140.0 198.5,125.0 200.0,160.0 200.3,120.0 200.5,117.0" fill="#fce1c3" fill-opacity="0.7"/>
<polygon points="227.3,117.0 228.7,150.0 230.0,125.6 232.2,134.3 233.9,120.4 234.8,155.1 236.5,198.5 238.2,212.4 239.1,246.2 240.5,229.7 242.6,231.5 244.3,233.2 246.0,226.3 248.6,217.6 250.9,217.6 252.1,208.9 253.9,195.0 254.7,182.9 256.5,144.7 258.5,117.0 260.0,139.5 261.7,117.0 263.4,150.0 264.3,248.8 264.8,190.0 266.0,170.8 267.7,144.7 269.5,130.8 270.3,150.0 271.2,139.5 272.0,158.6 273.5,195.0 275.6,170.8 278.2,130.8 279.9,117.0 282.5,132.6 285.1,120.4 287.7,123.9 290.3,118.7 292.9,123.9 293.8,153.4 294.7,117.0 295.8,150.0 296.2,341.0 297.0,264.0 299.0,258.0 301.5,264.0 302.0,298.0 304.0,298.0 306.5,300.0 307.7,343.0 308.5,297.0 312.0,294.0 315.5,290.0 316.2,264.0 318.5,256.0 320.5,262.0 321.5,280.0 322.5,200.0 323.0,150.0 324.0,135.0 325.0,140.0 326.5,177.8 327.0,117.0" fill="#fcc3c3" fill-opacity="0.7"/>
<polygon points="383.6,117.0 384.5,138.6 385.5,157.7 386.5,183.5 388.0,161.6 389.3,129.1 390.3,117.6 391.8,138.6 393.1,167.3 395.0,182.6 396.4,197.9 398.3,184.5 400.8,176.8 402.7,194.0 404.6,178.8 406.5,157.7 408.4,134.8 409.0,117.6 410.3,148.2 411.7,173.0 413.2,201.7 414.2,218.9 415.5,199.8 418.0,201.7 419.9,186.4 421.8,157.7 422.7,117.6 424.3,167.3 425.0,192.1 426.6,148.2 428.5,121.5 430.4,138.6 431.9,117.6 433.3,157.7 434.6,178.8 436.1,182.6 438.0,159.7 439.9,161.6 440.9,155.8 443.8,148.2 446.6,136.7 448.5,121.5 450.4,136.7 452.3,117.6 453.4,138.6 454.2,167.3 455.3,186.4 456.7,163.5 458.6,175.0 460.5,211.2 462.4,196.0 464.3,199.8 467.2,186.4 469.1,178.8 471.0,173.0 472.9,148.2 475.8,131.0 476.0,131.4 478.2,118.5 479.2,133.5 481.4,165.8 482.5,211.0 484.2,172.3 486.8,133.5 488.5,118.5 490.0,144.3 491.5,176.6 492.4,204.6 493.7,165.8 496.5,133.5 497.5,118.5 498.6,125.0 500.8,155.0 501.8,137.8 503.6,176.6 506.1,187.3 507.9,230.4 509.4,187.3 511.5,144.3 513.0,120.6 514.3,137.8 515.4,183.0 516.3,226.1 518.0,176.6 520.1,140.0 521.2,125.0 522.9,144.3 523.8,183.0 525.1,133.5 526.6,155.0 527.7,120.6 528.7,117.0" fill="#9ed0f9" fill-opacity="0.7"/>
<polygon points="578.6,117.0 579.5,148.2 581.5,157.7 583.4,161.6 585.3,173.0 587.2,148.2 589.1,144.4 591.0,127.2 592.9,117.6 594.8,124.0 596.7,119.0 598.2,121.0 598.6,148.2 599.1,121.0 600.8,119.0 601.5,157.7 602.2,124.0 603.2,130.0 604.4,167.3 606.3,176.8 607.8,203.6 609.2,186.4 611.1,176.8 613.0,184.5 614.9,201.7 616.0,210.0 617.0,229.1 618.9,238.6 620.2,252.0 621.7,234.8 623.6,253.9 625.2,262.5 627.5,273.0 629.4,261.6 631.3,248.2 633.2,229.1 635.1,210.0 635.9,182.6 637.0,210.0 638.0,248.2 639.3,271.1 640.3,314.1 641.8,273.0 643.7,267.3 645.0,257.7 646.6,238.6 648.1,221.5 648.3,186.4 650.4,210.0 654.0,213.1 656.9,196.0 658.4,182.6 659.8,157.7 661.7,134.8 662.6,157.7 663.6,186.4 664.5,173.0 665.5,165.4 667.4,153.9 669.3,129.1 671.2,117.6 673.1,129.1 674.1,117.6 676.0,144.4 677.9,117.6 679.8,129.1 681.7,163.5 683.3,197.9 684.6,157.7 686.5,184.5 688.4,138.6 690.3,117.6 692.2,138.6 694.2,167.3 695.5,190.2 697.0,210.0 698.1,231.2 698.9,259.4 700.5,267.2 702.8,276.6 705.2,265.6 707.2,286.0 708.3,254.7 709.1,223.4 710.3,212.5 711.4,200.0 712.3,186.4 713.8,200.0 715.3,231.2 716.9,206.2 718.0,157.7 719.9,150.0 721.0,153.0 722.0,140.0 722.4,117.0" fill="#acf0c8" fill-opacity="0.85"/>
<polygon points="773.6,116.9 774.2,124.2 775.5,119.3 776.7,136.3 777.5,141.2 778.8,137.5 779.7,130.2 780.9,119.3 782.2,118.0 783.4,130.2 784.3,144.8 785.2,136.3 786.4,121.7 787.4,136.3 788.2,176.4 789.2,136.3 790.0,119.3 791.3,129.0 792.5,118.0 793.7,130.2 794.3,149.7 794.9,143.6 796.1,153.3 797.3,158.2 798.9,160.6 799.8,153.3 801.4,172.8 802.2,154.5 802.8,118.0 804.0,124.2 805.0,124.0 806.2,132.7 807.4,140.0 809.3,147.2 809.9,160.6 810.5,171.5 811.7,169.1 812.9,175.2 813.5,181.3 814.5,166.7 815.7,170.3 816.5,160.6 817.8,148.5 818.4,126.6 819.3,116.9 820.2,124.2 821.4,119.3 822.6,132.7 823.2,122.9 824.4,119.3 825.7,137.5 826.6,136.3 827.5,121.7 828.7,127.8 829.9,119.3 830.5,148.5 831.5,167.9 832.3,148.5 832.9,119.3 834.8,119.3 836.0,122.9 837.2,130.2 838.4,136.3 839.6,165.5 840.2,140.0 840.9,152.0 841.7,138.0 843.5,167.6 845.2,181.4 846.6,155.4 847.8,129.4 849.5,138.0 851.3,155.4 853.0,172.8 854.2,191.9 855.6,164.0 856.5,139.8 857.4,155.4 858.8,200.5 860.0,178.0 861.2,181.4 862.6,200.5 864.3,160.6 866.0,155.4 866.9,172.8 868.6,143.2 870.4,129.4 871.6,119.0 873.0,122.4 874.4,132.8 875.6,122.4 876.8,138.0 877.4,138.0 878.6,157.1 879.8,143.2 880.9,122.4 882.1,119.0 883.0,132.8 884.3,146.7 885.5,152.0 886.1,172.8 886.8,184.9 887.8,198.8 889.0,184.9 890.2,190.1 891.6,206.6 892.5,181.4 893.4,160.6 894.2,146.7 895.1,125.9 896.8,119.0 898.2,129.4 899.4,141.5 900.6,145.0 902.0,132.8 903.4,122.4 905.2,119.0 906.9,125.9 908.1,134.6 909.0,122.4 910.4,143.2 911.6,155.4 912.8,138.0 914.2,120.7 914.6,117.0" fill="#000000" fill-opacity="0.8"/>
<polyline points="160.2,467.2 160.2,465.7 160.2,466.8 160.2,466.0 160.3,464.2 160.3,464.2 160.3,463.5 160.3,463.4 160.3,463.1 160.3,460.8 160.3,460.1 160.3,461.4 160.4,459.8 160.4,460.0 160.4,457.6 160.4,458.1 160.4,458.1 160.4,456.3 160.4,457.5 160.4,456.8 160.5,454.1 160.5,453.5 160.5,454.1 160.5,454.5 160.5,452.5 160.5,451.5 160.5,451.4 160.5,449.9 160.6,449.7 160.6,449.7 160.6,449.2 160.6,448.0 160.6,447.4 160.6,446.7 160.6,446.7 160.6,445.7 160.7,444.5 160.7,445.8 160.7,444.5 160.7,443.8 160.7,444.8 160.8,444.3 160.8,446.8 160.8,447.1 160.9,445.9 160.9,447.1 160.9,448.6 161.0,449.2 161.0,450.3 161.0,449.7 161.1,451.3 161.1,451.5 161.1,451.3 161.2,452.6 161.2,453.9 161.2,454.4 161.3,454.2 161.3,455.0 161.3,454.3 161.4,455.4 161.4,457.3 161.4,457.0 161.5,457.1 161.5,458.6 161.5,459.6 161.6,460.1 161.6,460.3 161.7,459.4 161.9,459.0 162.0,458.5 162.1,458.6 162.3,457.4 162.4,456.4 162.5,456.1 162.6,454.4 162.8,453.8 162.9,454.8 163.0,454.9 163.2,453.3 163.3,452.5 163.6,452.9 163.9,452.9 164.2,454.3 164.5,456.1 164.8,456.2 165.1,456.3 165.4,456.8 165.8,458.1 166.3,457.0 166.7,458.1 167.1,459.6 167.6,459.2 168.0,459.4 168.6,459.1 169.2,458.5 169.8,459.0 170.4,459.8 171.0,458.5 171.0,456.7 171.1,458.0 171.1,457.5 171.1,457.0 171.2,456.1 171.2,455.6 171.2,454.3 171.2,453.8 171.3,452.9 171.3,451.4 171.3,452.8 171.4,451.4 171.4,449.9 171.4,450.1 171.5,449.4 171.5,448.5 171.5,447.9 171.5,447.7 171.6,447.3 171.6,446.7 171.6,445.7 171.7,444.1 171.7,444.0 171.7,443.3 171.8,443.6 171.8,443.7 171.8,442.9 171.8,442.3 171.9,441.8 171.9,439.8 171.9,440.6 172.0,439.6 172.0,438.6 172.2,437.0 172.5,436.2 172.8,435.5 173.0,436.7 173.2,434.9 173.5,433.9 173.8,434.2 173.8,433.9 173.8,432.6 173.8,431.3 173.8,430.9 173.8,431.2 173.8,429.7 173.8,429.4 173.8,429.8 173.8,428.6 173.9,427.7 173.9,427.4 173.9,425.7 173.9,426.0 173.9,425.4 173.9,424.3 173.9,423.5 173.9,424.8 173.9,423.2 173.9,421.9 174.0,422.2 174.0,422.1 174.0,419.6 174.0,419.0 174.0,418.7 174.0,419.4 174.0,417.5 174.0,418.2 174.0,417.5 174.0,416.6 174.1,415.2 174.1,416.4 174.1,415.3 174.1,414.1 174.1,413.4 174.1,412.1 174.1,412.5 174.2,411.3 174.2,411.2 174.2,409.9 174.2,410.1 174.3,408.1 174.3,408.1 174.3,409.1 174.3,408.2 174.4,406.3 174.4,407.0 174.4,405.1 174.4,406.0 174.5,404.9 174.5,403.5 174.5,402.5 174.5,401.3 174.6,402.8 174.6,400.2 174.6,401.5 174.6,401.2 174.7,399.6 174.7,398.1 174.7,399.2 174.7,398.8 174.8,397.6 174.8,396.5 174.8,395.6 174.8,394.9 174.8,393.9 174.9,394.5 174.9,393.3 174.9,392.1 174.9,391.3 175.0,392.0 175.0,390.5 175.0,390.4 175.0,389.4 175.1,390.1 175.1,389.5 175.1,386.8 175.1,386.7 175.2,386.4 175.2,387.3 175.2,386.2 175.2,384.6 175.3,383.7 175.3,384.2 175.3,384.0 175.3,383.6 175.4,381.6 175.4,382.2 175.4,381.2 175.4,380.1 175.5,380.7 175.5,378.3 175.5,378.3 175.5,379.4 175.5,378.5 175.5,379.3 175.5,381.7 175.5,380.6 175.5,382.5 175.6,382.8 175.6,383.9 175.6,383.4 175.6,383.9 175.6,384.4 175.6,386.4 175.6,386.4 175.6,387.8 175.6,388.3 175.6,387.1 175.6,388.7 175.6,388.2 175.6,388.6 175.6,389.3 175.7,391.8 175.7,392.2 175.7,392.9 175.7,392.4 175.7,393.6 175.7,394.6 175.7,394.3 175.7,395.3 175.7,395.1 175.7,395.4 175.7,396.4 175.7,398.5 175.7,398.3 175.7,399.8 175.8,399.3 175.8,399.5 175.8,401.3 175.8,402.0 175.8,400.6 175.8,402.8 175.8,403.0 175.9,401.4 176.0,400.9 176.1,402.1 176.2,399.5 176.2,399.3 176.3,400.5 176.4,398.5 176.5,397.2 176.6,396.7 176.7,396.3 176.8,396.9 176.9,394.7 177.0,396.1 177.1,394.2 177.2,395.0 177.2,394.2 177.3,392.1 177.4,391.4 177.5,391.4 177.6,390.8 177.7,390.4 177.7,392.4 177.8,391.5 177.9,392.0 178.0,395.0 178.0,393.9 178.1,395.3 178.2,395.5 178.3,395.8 178.3,395.8 178.4,398.4 178.5,399.2 178.6,399.8 178.6,398.3 178.7,399.2 178.8,400.8 178.9,402.2 178.9,401.8 179.0,402.7 179.1,403.3 179.2,402.9 179.2,404.2 179.3,404.7 179.5,404.9 179.6,405.3 179.8,405.5 180.0,406.6 180.2,408.9 180.3,408.3 180.5,409.0 180.6,408.8 180.6,408.1 180.7,408.2 180.7,406.3 180.8,405.5 180.8,404.9 180.9,404.3 180.9,405.0 181.0,404.5 181.0,402.5 181.1,401.9 181.1,401.8 181.2,401.3 181.2,400.7 181.3,399.3 181.3,398.1 181.4,398.1 181.4,397.0 181.5,397.6 181.5,395.8 181.6,395.2 181.6,396.0 181.7,394.5 181.7,395.1 181.8,393.8 181.8,394.1 181.9,392.6 182.1,391.2 182.3,391.4 182.5,391.6 182.7,389.3 182.8,390.8 183.0,388.3 183.2,389.2 183.4,389.1 183.6,387.4 183.8,387.6 183.9,385.7 184.1,384.6 184.3,384.9 184.4,385.3 184.6,383.2 184.8,384.0 184.9,381.6 185.1,382.8 185.2,380.1 185.4,380.1 185.6,380.9 185.7,380.1 185.9,378.7 186.0,379.1 186.1,378.3 186.3,377.4 186.4,376.7 186.5,374.8 186.6,374.8 186.8,373.5 186.9,374.2 187.0,373.5 187.1,371.9 187.2,370.8 187.4,372.4 187.5,371.4 187.6,370.0 187.6,369.5 187.6,368.9 187.6,369.0 187.6,367.5 187.7,366.7 187.7,366.0 187.7,365.2 187.7,364.1 187.7,365.0 187.7,363.8 187.7,363.6 187.7,361.7 187.7,361.9 187.8,360.7 187.8,360.1 187.8,359.8 187.8,360.6 187.8,359.0 187.8,358.4 187.8,358.3 187.8,356.8 187.8,355.6 187.9,356.3 187.9,355.6 187.9,355.4 187.9,354.3 187.9,354.2 187.9,353.8 187.9,352.0 187.9,352.0 187.9,351.3 188.0,350.1 188.0,350.0 188.0,349.7 188.0,350.0 188.0,349.4 188.0,347.3 188.0,347.6 188.0,345.5 188.1,345.0 188.1,345.4 188.1,345.7 188.1,343.4 188.1,344.2 188.1,343.9 188.1,341.9 188.1,342.3 188.1,342.0 188.2,340.3 188.2,340.5 188.2,340.0 188.2,339.0 188.2,339.1 188.2,338.6 188.2,338.1 188.2,336.6 188.2,335.0 188.3,334.6 188.3,333.9 188.3,334.2 188.3,334.0 188.3,332.8 188.5,332.3 188.7,334.4 188.9,335.1 189.1,334.8 189.2,335.8 189.4,335.6 189.6,337.6 189.8,336.5 190.0,339.4 190.2,339.5 190.4,339.7 190.6,339.4 190.7,341.6 190.9,342.3 191.1,340.9 191.3,343.1 191.5,343.0 191.8,344.4 192.1,344.5 192.3,345.1 192.6,345.1 192.9,346.8 193.2,347.5 193.4,346.6 193.7,348.2 194.0,348.0 194.2,348.4 194.5,348.4 194.7,349.3 194.9,349.5 195.2,351.9 195.4,352.6 195.6,351.2 195.9,353.0 196.1,353.3 196.1,352.5 196.2,351.2 196.2,351.0 196.2,350.3 196.2,350.9 196.3,348.5 196.3,348.3 196.3,348.3 196.4,346.7 196.4,347.6 196.4,346.9 196.5,346.9 196.5,344.8 196.5,344.4 196.5,344.4 196.6,343.1 196.6,343.3 196.6,341.9 196.7,342.3 196.7,342.0 196.7,341.4 196.8,341.2 196.8,339.6 196.8,338.8 196.8,339.1 196.9,338.3 196.9,337.2 196.9,336.2 197.0,335.3 197.0,334.3 197.0,335.4 197.1,333.1 197.1,334.0 197.1,332.9 197.1,333.3 197.2,332.2 197.2,332.2 197.2,329.5 197.3,329.8 197.3,329.4 197.3,328.2 197.4,328.0 197.4,327.1 197.4,326.9 197.4,325.0 197.5,325.5 197.5,325.0 197.6,324.3 197.6,323.3 197.7,322.9 197.7,323.2 197.8,322.4 197.8,321.3 197.9,321.1 197.9,319.8 198.0,318.8 198.1,317.7 198.1,317.7 198.2,317.9 198.2,318.0 198.3,317.2 198.3,315.9 198.4,316.4 198.4,314.5 198.5,314.0 198.5,314.2 198.6,312.6 198.6,312.8 198.6,312.8 198.7,310.5 198.7,309.6 198.8,310.1 198.8,309.3 198.8,308.3 198.9,306.8 198.9,307.1 198.9,306.6 199.0,306.0 199.0,306.5 199.0,305.2 199.1,305.0 199.1,304.8 199.1,303.8 199.2,302.6 199.2,302.6 199.2,301.7 199.3,301.2 199.3,300.5 199.4,299.4 199.4,299.3 199.4,298.7 199.5,298.8 199.5,297.9 199.5,297.4 199.6,296.6 199.6,296.2 199.6,295.1 199.7,293.8 199.7,293.0 199.8,293.5 199.8,293.3 199.8,291.9 199.9,290.4 199.9,291.4 199.9,290.0 200.0,289.3 200.0,287.7 200.0,288.2 200.1,288.2 200.1,286.8 200.1,286.1 200.2,286.2 200.2,284.0 200.2,284.6 200.3,285.1 200.3,283.9 200.4,282.6 200.4,282.7 200.4,281.9 200.5,280.3 200.5,280.4" fill="none" stroke="#fd8a08" stroke-width="2" stroke-linejoin="round"/>
<polyline points="227.3,465.1 227.4,463.6 227.4,464.7 227.5,463.9 227.5,462.1 227.6,462.1 227.7,461.4 227.7,461.3 227.8,461.0 227.8,458.7 227.9,458.0 227.9,459.3 228.0,457.7 228.1,457.9 228.1,455.5 228.2,456.0 228.2,456.0 228.3,454.2 228.3,455.4 228.4,454.7 228.5,452.0 228.5,451.4 228.6,452.0 228.6,452.4 228.7,450.7 229.0,449.8 229.4,448.9 229.8,448.8 230.1,447.3 230.5,447.2 230.8,447.3 230.9,446.5 230.9,446.1 231.0,444.8 231.1,444.2 231.2,443.6 231.2,443.5 231.3,442.5 231.4,441.3 231.4,442.6 231.5,441.3 231.6,440.9 231.6,439.2 231.7,440.6 231.8,439.6 231.8,437.2 231.9,437.1 232.0,437.5 232.1,436.8 232.1,436.8 232.2,435.1 232.2,434.3 232.3,434.7 232.3,433.7 232.4,432.2 232.4,432.3 232.4,432.3 232.5,431.6 232.5,430.2 232.5,429.8 232.6,427.9 232.6,427.8 232.7,428.5 232.7,426.9 232.7,425.8 232.8,426.0 232.8,425.8 232.8,425.1 232.9,423.8 232.9,423.3 233.0,422.9 233.0,422.9 233.0,421.7 233.1,420.8 233.1,420.4 233.2,418.7 233.2,418.1 233.2,419.1 233.3,419.1 233.3,417.6 233.3,416.5 233.4,415.3 233.4,415.5 233.5,416.1 233.5,414.3 234.2,415.3 234.8,415.1 234.9,415.8 235.0,417.2 235.1,416.3 235.2,417.6 235.3,419.3 235.5,419.1 235.6,419.4 235.7,419.6 235.8,420.9 235.9,422.5 236.0,422.0 236.7,420.4 237.4,421.2 237.5,422.5 237.5,423.2 237.6,424.0 237.6,424.2 237.7,425.0 237.7,424.9 237.8,425.7 237.8,426.0 237.9,425.7 238.0,428.3 238.0,428.2 238.1,427.9 238.1,429.2 238.2,429.8 238.2,430.1 238.3,430.7 238.4,431.8 238.4,432.6 238.5,433.2 238.5,433.4 238.6,433.0 238.6,434.1 238.7,434.6 238.8,436.0 238.9,435.6 239.1,435.7 239.3,435.0 239.5,434.4 239.7,433.9 239.9,431.9 240.1,432.8 240.3,431.8 240.5,430.8 240.8,429.2 241.0,428.5 241.3,428.0 241.6,429.2 241.8,427.4 242.1,426.6 242.3,427.2 242.6,426.4 242.8,426.6 242.9,426.6 243.1,427.4 243.3,428.9 243.4,428.7 243.6,429.5 243.8,431.2 244.0,431.2 244.1,431.5 244.3,432.5 244.6,431.9 244.9,430.2 245.3,430.6 245.6,430.1 245.9,429.0 246.2,428.2 246.5,429.6 246.8,428.1 247.2,426.8 247.5,427.2 247.8,426.4 248.2,427.7 248.5,426.2 248.9,426.7 249.3,427.6 249.7,429.4 250.0,428.6 250.4,429.9 250.8,430.0 251.3,429.5 251.7,428.7 252.2,427.5 252.6,428.9 253.0,428.0 253.5,426.9 253.9,426.4 254.1,425.1 254.2,425.6 254.4,424.4 254.6,424.2 254.7,423.0 254.9,423.2 255.0,421.2 255.2,421.2 255.4,422.2 255.5,421.4 255.7,419.4 255.8,420.1 256.0,418.2 256.2,419.1 256.3,418.1 256.5,416.9 257.2,416.4 257.8,415.7 258.5,416.0 258.6,414.2 258.7,415.7 258.8,413.0 258.8,414.3 258.9,414.0 259.0,412.5 259.1,410.9 259.2,411.9 259.3,411.6 259.4,410.3 259.4,409.2 259.5,408.3 259.6,407.6 259.7,406.6 259.8,407.1 259.9,405.9 260.0,404.7 260.0,403.9 260.1,404.6 260.2,403.1 260.3,403.0 260.4,402.4 260.6,401.4 260.7,402.1 260.8,401.5 260.9,398.8 261.1,398.6 261.2,398.3 261.3,399.3 261.5,398.2 261.6,396.5 261.7,395.6 261.9,396.1 262.0,395.9 262.1,395.5 262.2,393.4 262.4,394.1 262.5,392.6 262.6,392.4 262.7,391.3 262.8,391.9 263.0,389.4 263.1,390.0 263.2,387.8 263.3,387.4 263.4,388.5 263.5,386.2 263.6,386.9 263.8,385.6 263.8,386.4 263.8,387.6 263.8,387.1 263.8,387.6 263.8,388.1 263.8,390.1 263.8,390.0 263.9,391.5 263.9,391.9 263.9,390.7 263.9,392.3 263.9,391.9 263.9,392.3 263.9,393.0 264.0,395.5 264.0,395.9 264.0,396.6 264.0,396.0 264.0,397.3 264.0,398.3 264.0,397.9 264.1,399.0 264.1,398.7 264.1,399.0 264.1,400.0 264.1,402.1 264.1,402.0 264.1,403.4 264.2,402.9 264.2,403.1 264.2,404.9 264.2,405.6 264.2,404.2 264.2,406.4 264.2,405.6 264.3,406.3 264.3,408.7 264.3,407.3 264.3,409.0 264.4,407.8 264.4,408.9 264.5,407.0 264.6,405.6 264.7,405.1 264.7,404.7 264.8,405.3 264.9,403.1 264.9,404.5 265.0,402.6 265.1,403.4 265.1,402.6 265.2,400.5 265.3,399.8 265.4,399.8 265.4,398.2 265.5,399.0 265.6,396.9 265.6,396.2 265.7,397.9 265.8,395.6 265.9,395.8 265.9,394.8 266.0,394.3 266.3,393.3 266.7,392.2 267.0,393.7 267.3,393.3 267.7,392.8 268.0,390.2 268.3,389.9 268.6,390.3 269.0,390.7 269.3,389.1 269.6,388.9 270.0,388.3 270.3,387.4 270.5,387.4 270.7,388.7 270.9,388.7 271.1,389.1 271.3,389.3 271.5,390.3 271.7,392.6 271.9,391.9 272.1,393.0 272.2,393.5 272.4,394.8 272.6,394.1 272.8,394.4 273.0,395.1 273.2,395.6 273.4,397.5 273.6,398.2 273.8,397.8 274.1,396.7 274.4,396.2 274.7,396.2 275.0,395.7 275.2,395.1 275.5,393.7 275.8,392.6 276.1,392.6 276.4,392.6 276.7,391.0 276.9,391.6 277.2,390.0 277.5,389.4 277.7,390.2 278.0,388.9 278.3,389.5 278.6,388.3 278.8,388.6 279.1,386.4 279.4,386.7 279.6,386.8 279.9,385.6 280.5,384.7 281.1,386.9 281.7,385.2 282.4,386.8 283.0,387.4 283.6,387.1 284.2,386.5 284.3,385.5 284.3,384.3 284.4,384.7 284.5,385.1 284.5,382.9 284.6,383.8 284.7,381.4 284.7,382.6 284.8,379.9 284.9,379.9 284.9,380.7 285.0,379.9 285.1,379.5 285.1,378.8 285.2,377.9 285.3,377.2 285.3,375.3 285.4,375.3 285.5,374.1 285.5,374.8 285.6,374.1 285.7,372.5 285.7,371.4 285.8,372.9 285.9,372.0 285.9,370.7 286.0,370.0 286.1,369.5 286.2,369.6 286.3,368.1 286.3,367.3 286.4,366.6 286.5,365.8 286.6,364.7 286.7,365.6 286.8,364.4 286.9,364.2 286.9,362.3 287.0,362.5 287.1,361.3 287.2,360.7 287.3,360.4 287.4,361.2 287.5,359.6 287.6,359.0 287.6,358.9 287.7,357.4 287.8,356.2 287.9,356.9 288.0,356.2 288.1,356.0 288.2,354.9 288.2,354.8 288.3,354.4 288.4,352.6 288.5,352.6 288.6,351.9 288.7,350.7 288.8,350.6 288.8,350.3 288.9,350.6 289.0,350.0 289.1,347.9 289.2,348.2 289.3,346.1 289.4,345.6 289.5,346.0 289.5,346.3 289.6,344.0 289.7,344.8 289.8,344.5 289.9,342.5 290.0,342.9 290.1,342.6 290.1,340.9 290.2,341.1 290.3,340.6 290.4,339.4 290.4,339.0 290.5,339.0 290.5,338.5 290.6,338.1 290.6,336.5 290.7,335.0 290.8,334.6 290.8,333.9 290.8,334.1 290.9,334.0 290.9,331.7 291.0,332.6 291.1,332.0 291.1,330.5 291.1,330.3 291.2,328.9 291.2,329.6 291.3,327.4 291.3,329.0 291.4,328.0 291.4,327.0 291.5,325.5 291.6,326.4 291.6,326.0 291.6,323.4 291.7,324.3 291.8,323.9 291.8,322.8 291.9,322.3 291.9,321.1 291.9,321.6 292.0,320.0 292.1,320.5 292.1,318.5 292.2,318.9 292.2,317.3 292.3,316.1 292.4,315.8 292.4,314.7 292.5,316.0 292.6,315.5 292.6,312.8 292.7,313.4 292.8,312.3 292.8,311.0 292.9,310.8 292.9,310.0 293.0,310.0 293.1,310.0 293.3,307.6 293.4,307.4 293.5,307.4 293.7,305.8 293.8,306.7 294.0,306.0 294.1,305.9 294.2,303.8 294.4,303.4 294.5,303.3 294.5,302.8 294.5,301.6 294.6,301.7 294.6,300.3 294.6,300.7 294.6,300.4 294.6,299.8 294.6,299.6 294.7,298.0 294.7,297.3 294.7,297.5 294.7,296.7 294.7,295.7 294.8,294.6 294.8,293.8 294.8,292.7 294.8,293.8 294.8,291.6 294.8,292.5 294.9,291.4 294.9,291.8 294.9,290.7 294.9,290.6 294.9,288.0 295.0,288.3 295.0,287.8 295.0,286.6 295.0,286.5 295.0,285.5 295.0,285.3 295.1,283.5 295.1,283.9 295.1,283.3 295.1,282.4 295.1,282.0 295.1,282.3 295.2,281.5 295.2,280.4 295.2,280.2 295.2,279.0 295.2,277.9 295.3,276.9 295.3,276.9 295.3,277.1 295.3,277.2 295.3,276.4 295.3,275.1 295.4,275.6 295.4,273.7 295.4,274.0 295.4,272.4 295.4,272.6 295.5,272.6 295.5,270.4 295.5,269.4 295.5,269.9 295.5,269.1 295.5,268.1 295.6,266.6 295.6,267.0 295.6,266.4 295.6,265.8 295.6,266.3 295.7,265.0 295.7,264.8 295.7,264.6 295.7,263.6 295.7,262.4 295.7,262.4 295.8,261.5 295.8,261.0 295.8,260.0 295.8,260.9 295.8,261.0 295.9,262.1 295.9,262.7 295.9,264.1 295.9,264.3 296.0,265.1 296.0,265.5 296.0,266.2 296.0,266.3 296.1,266.3 296.1,266.7 296.1,268.4 296.1,269.4 296.1,269.2 296.2,268.8 296.2,271.1 296.2,270.8 296.2,271.4 296.3,271.0 296.3,272.7 296.3,273.9 296.3,273.7 296.4,274.2 296.4,275.5 296.4,274.6 296.4,276.3 296.5,278.0 296.5,278.0 296.5,277.9 296.5,279.2 296.5,279.6 296.6,279.3 296.6,279.9 296.6,282.1 296.6,281.2 296.7,281.4 296.7,283.8 296.7,283.6 296.7,283.9 296.8,284.8 296.8,286.0 296.8,286.0 296.9,284.6 297.0,285.1 297.1,284.6 297.2,284.2 297.3,282.3 297.5,282.4 297.6,280.9 297.7,281.1 297.8,279.5 297.9,280.3 298.0,279.0 298.1,280.5 298.2,279.8 298.2,280.1 298.3,282.5 298.4,282.5 298.5,283.5 298.5,282.1 298.6,284.8 298.7,284.7 298.8,284.6 298.9,285.5 298.9,286.9 299.0,287.5 299.1,286.7 299.2,288.4 299.3,287.9 299.3,290.4 299.4,289.7 299.5,291.5 299.6,291.6 299.6,291.9 299.7,291.7 299.8,292.9 300.0,292.4 300.2,290.9 300.4,290.3 300.7,291.1 300.9,289.7 301.1,290.1 301.3,288.3 301.5,288.8 301.8,288.2 302.0,286.7 302.2,285.6 302.4,286.0 302.6,286.4 302.7,287.2 302.9,286.9 303.0,287.7 303.2,288.0 303.3,289.9 303.5,291.2 303.6,290.2 303.8,290.4 303.9,292.6 304.1,293.5 304.2,294.5 304.4,294.2 304.5,294.2 304.7,296.0 304.8,294.9 305.0,296.4 305.4,297.4 305.7,296.4 306.1,297.7 306.5,298.4 306.9,298.6 307.2,298.6 307.6,299.9 308.2,299.3 308.9,300.7 309.6,299.8 310.2,299.9 310.4,299.5 310.6,298.0 310.8,298.7 311.0,297.2 311.1,297.2 311.3,297.4 311.5,297.0 311.7,294.1 311.9,295.4 312.1,294.9 312.3,293.1 312.5,292.6 312.7,292.5 312.8,292.7 313.0,290.9 313.2,291.5 313.4,290.6 313.6,289.4 314.0,288.1 314.4,289.4 314.7,286.8 315.1,286.6 315.5,287.4 315.9,285.4 316.2,286.0 316.9,285.9 317.6,285.5 318.2,286.5 318.9,286.8 319.0,288.2 319.0,289.0 319.1,287.5 319.1,288.2 319.2,290.6 319.3,289.3 319.3,290.5 319.4,290.7 319.5,291.3 319.5,291.7 319.6,293.8 319.6,294.6 319.7,294.6 319.8,294.5 319.9,294.3 320.0,293.2 320.1,291.9 320.2,291.9 320.3,292.1 320.4,290.7 320.5,289.1 320.7,288.1 320.8,289.5 320.9,288.1 321.0,286.9 321.1,286.9 321.2,286.2 321.3,285.5 321.4,283.8 321.5,284.2 321.6,283.2 321.6,282.8 321.7,281.7 321.8,282.7 321.8,281.0 321.9,281.0 322.0,280.5 322.0,280.0 322.1,279.3 322.2,278.8 322.2,277.0 322.3,278.1 322.4,275.6 322.4,276.8 322.5,276.1 322.5,275.4 322.6,272.9 322.7,272.4 322.7,273.6 322.8,272.1 322.9,271.3 322.9,272.2 323.0,269.3 323.1,269.9 323.1,269.1 323.2,268.6 323.2,267.1 323.3,267.1 323.3,267.3 323.3,267.1 323.4,264.5 323.4,265.1 323.4,263.4 323.5,264.5 323.5,262.2 323.5,261.5 323.6,261.7 323.6,262.0 323.6,260.4 323.7,259.3 323.7,260.3 323.7,259.7 323.8,259.3 323.8,257.3 323.8,257.0 323.9,256.0 323.9,256.1 323.9,255.0 324.0,254.4 324.0,254.9 324.0,254.7 324.0,253.2 324.1,251.5 324.1,252.2 324.1,251.1 324.2,251.8 324.2,250.5 324.2,250.2 324.3,249.3 324.3,248.3 324.3,248.6 324.4,247.8 324.4,245.9 324.4,245.0 324.5,244.9 324.5,244.7 324.5,243.0 324.6,243.0 324.6,243.0 324.6,241.1 324.7,242.4 324.7,241.4 324.7,240.0 324.8,239.3 324.8,238.8 324.8,238.2 324.9,238.6 324.9,237.4 324.9,236.8 325.0,236.3 325.0,234.7 325.0,236.0 325.1,234.0 325.1,233.4 325.1,232.1 325.2,233.7 325.2,231.9 325.3,232.3 325.3,231.8 325.3,231.3 325.4,230.3 325.4,229.9 325.4,229.3 325.5,228.4 325.5,226.2 325.5,226.6 325.6,226.1 325.6,226.5 325.6,225.4 325.7,224.6 325.7,224.1 325.7,222.5 325.8,223.3 325.8,222.0 325.9,220.8 325.9,220.4 325.9,221.0 326.0,219.3 326.0,217.8 326.0,217.2 326.1,217.9 326.1,217.0 326.1,217.2 326.2,214.8 326.2,214.8 326.2,214.9 326.3,212.7 326.3,212.2 326.3,212.7 326.4,211.4 326.4,210.4 326.4,210.2 326.5,210.5 326.5,209.6 326.6,207.9 326.6,207.3 326.6,208.6 326.7,207.5 326.7,205.7 326.7,206.8 326.8,204.2 326.8,204.7 326.9,203.8 326.9,204.3 327.0,203.3 327.0,201.7 327.1,202.5 327.1,201.2 327.2,201.2 327.3,200.7 327.3,198.9 327.4,198.9 327.4,198.0 327.5,198.3 327.5,197.4 327.6,196.6 327.7,196.2 327.7,196.0 327.8,193.6 327.8,192.8 327.9,193.5 327.9,193.0 328.0,191.7" fill="none" stroke="#fd6670" stroke-width="2" stroke-linejoin="round"/>
<polyline points="383.7,462.1 383.8,460.6 383.8,461.7 383.9,460.9 383.9,459.1 384.0,459.1 384.1,458.4 384.1,458.2 384.2,458.0 384.2,455.7 384.3,454.9 384.4,456.3 384.4,454.7 384.5,454.9 384.6,452.4 384.6,452.9 384.7,453.0 384.7,451.2 384.8,452.3 384.9,451.6 384.9,448.9 385.0,448.3 385.0,448.9 385.1,448.2 385.2,449.9 385.2,449.2 385.3,449.4 385.3,450.5 385.4,450.2 385.4,451.3 385.5,452.4 385.6,453.2 385.6,453.2 385.7,453.8 385.7,454.4 385.8,455.6 385.8,455.8 385.9,456.9 386.1,455.1 386.2,456.4 386.4,455.1 386.5,454.6 386.7,452.9 386.9,454.2 387.0,453.2 387.2,451.7 387.6,451.2 388.0,452.1 388.5,453.5 388.9,453.4 389.0,453.3 389.2,453.2 389.3,451.3 389.5,451.7 389.6,450.7 389.8,449.2 389.9,449.3 390.1,449.3 390.2,448.6 390.4,447.2 390.6,446.8 390.7,444.8 390.9,444.7 391.0,444.7 391.2,446.1 391.4,445.8 391.5,445.9 391.7,447.4 391.9,448.4 392.0,449.0 392.2,448.9 392.4,449.9 392.8,450.2 393.2,450.8 393.7,451.9 394.1,451.7 394.3,452.3 394.5,452.6 394.7,453.4 394.9,452.9 395.0,453.5 395.2,455.7 395.4,456.9 395.6,456.5 395.8,456.9 396.3,456.3 396.9,455.4 397.4,455.8 398.0,456.6 398.5,455.1 399.1,455.5 399.8,454.8 400.4,455.4 401.0,454.3 401.4,454.1 401.9,455.2 402.4,456.7 402.8,456.0 403.1,455.6 403.4,454.7 403.7,453.7 404.0,453.8 404.2,454.2 404.5,451.3 404.8,452.6 405.1,452.1 405.4,450.8 405.6,451.1 405.8,450.2 406.0,449.7 406.2,448.4 406.4,447.9 406.6,447.0 406.8,445.5 407.0,446.9 407.2,445.6 407.4,444.1 407.6,444.2 407.8,443.6 408.0,443.0 408.3,443.2 408.6,443.8 408.9,444.8 409.1,445.6 409.4,446.1 409.7,446.4 410.0,446.9 410.3,446.4 410.6,447.5 410.9,448.0 411.2,449.5 411.5,449.9 411.6,451.4 411.8,451.9 411.9,452.5 412.1,453.1 412.2,452.4 412.4,454.4 412.6,454.7 412.7,453.9 412.9,454.3 413.0,454.9 413.2,457.3 413.3,456.8 413.5,457.0 413.6,458.6 414.0,458.3 414.3,457.1 414.7,455.8 415.1,455.4 415.4,455.7 415.8,455.1 416.3,453.9 416.8,453.8 417.3,454.5 417.8,453.5 418.3,452.8 418.8,452.8 419.3,452.5 419.5,450.8 419.8,451.1 420.0,450.6 420.2,449.5 420.5,448.8 420.7,450.1 421.0,448.6 421.2,447.4 421.4,447.8 421.7,447.7 421.9,446.4 422.0,444.6 422.0,444.0 422.1,443.8 422.2,444.5 422.2,442.6 422.3,443.3 422.4,442.6 422.4,441.7 422.5,440.3 422.6,441.5 422.6,440.5 422.7,439.2 422.8,437.9 422.8,438.4 422.9,437.1 422.9,437.0 423.0,435.8 423.1,435.9 423.1,433.9 423.2,433.9 423.3,434.9 423.3,434.1 423.4,432.1 423.5,432.9 423.5,430.9 423.6,430.8 423.7,432.5 423.7,432.6 423.8,432.5 423.9,432.7 423.9,432.7 424.0,435.4 424.1,434.0 424.1,436.5 424.2,437.5 424.2,437.2 424.3,436.8 424.4,439.1 424.4,440.0 424.5,439.5 424.9,439.5 425.2,438.5 425.6,437.7 426.0,437.1 426.4,436.3 426.7,436.9 427.1,436.0 427.2,435.2 427.3,434.0 427.4,433.2 427.5,434.0 427.6,432.5 427.7,432.3 427.8,431.3 427.9,432.0 428.1,431.5 428.2,428.7 428.3,428.6 428.4,428.2 428.5,429.2 428.6,428.1 428.7,426.4 428.8,425.5 428.9,425.6 429.5,426.0 430.2,426.4 430.9,426.6 431.5,425.6 431.7,425.8 431.8,427.7 432.0,427.8 432.1,427.9 432.3,429.7 432.5,428.5 432.6,430.3 432.8,429.4 433.0,430.2 433.1,432.5 433.3,431.4 433.5,433.3 433.6,433.6 433.8,434.7 433.9,434.2 434.1,435.1 434.5,434.3 435.0,433.7 435.4,434.7 435.8,433.6 436.3,434.0 436.7,432.5 437.0,432.9 437.4,430.5 437.7,431.0 438.0,429.4 438.3,428.7 438.6,428.3 439.0,429.6 439.3,428.2 439.9,429.2 440.5,429.6 441.1,428.7 441.6,429.6 442.2,430.3 442.8,429.9 443.2,429.2 443.6,429.2 444.1,428.0 444.5,427.2 444.9,427.2 445.4,428.3 445.8,427.1 446.2,426.5 446.8,427.4 447.5,426.1 448.1,425.6 448.7,426.7 449.3,426.6 450.0,424.6 450.6,425.6 450.7,425.4 450.8,423.4 451.0,422.8 451.1,424.0 451.2,421.4 451.3,421.2 451.5,422.4 451.6,420.4 451.7,419.1 451.8,418.6 451.9,418.1 452.1,418.7 452.2,416.6 452.3,416.9 452.4,417.3 452.5,415.4 452.6,416.2 452.7,415.4 452.8,413.3 452.9,412.6 453.0,412.5 453.1,411.0 453.2,411.7 453.3,409.6 453.4,408.9 453.5,410.7 453.5,408.4 453.6,408.5 453.7,407.5 453.8,406.6 453.9,405.4 454.0,406.8 454.1,406.3 454.2,405.7 454.3,403.0 454.4,402.6 454.5,403.0 454.6,402.1 454.7,403.9 454.8,403.4 455.0,404.4 455.1,404.9 455.2,404.6 455.3,405.9 455.4,405.9 455.6,406.4 455.7,406.6 455.8,408.2 456.4,407.9 457.1,409.8 457.8,408.7 458.4,409.1 459.0,409.8 459.5,410.0 460.1,410.0 460.1,411.7 460.2,411.0 460.2,411.5 460.3,412.2 460.3,412.8 460.4,414.7 460.4,415.4 460.4,414.7 460.5,415.4 460.5,416.5 460.6,417.2 460.6,417.7 461.0,417.4 461.3,416.0 461.7,414.8 462.1,414.8 462.4,413.8 462.8,414.3 463.3,414.1 463.8,412.5 464.3,412.2 464.8,413.1 465.3,411.9 465.8,412.8 466.3,411.7 466.6,412.2 467.0,413.6 467.3,412.4 467.7,413.8 468.0,414.3 468.4,414.5 468.8,412.3 469.2,413.9 469.6,411.6 469.9,412.5 470.3,412.5 470.7,411.6 471.1,410.0 471.5,409.9 471.7,408.4 471.9,408.8 472.1,409.2 472.3,407.1 472.4,408.0 472.6,405.6 472.8,406.8 473.0,404.2 473.2,404.7 473.9,404.0 474.5,405.2 475.1,404.8 475.8,403.8 476.3,404.4 476.8,403.9 477.3,403.3 477.8,402.8 478.3,401.2 478.8,401.4 479.3,401.2 479.4,399.8 479.5,400.5 479.6,399.8 479.7,398.2 479.8,397.2 479.9,398.7 480.0,397.7 480.1,396.5 480.2,395.9 480.3,396.0 480.4,394.5 480.5,393.7 480.6,393.0 480.7,392.2 480.8,391.1 480.9,392.0 481.0,390.8 481.1,390.6 481.2,388.7 481.3,388.9 481.4,387.7 481.5,387.1 481.6,386.8 481.7,387.6 481.8,386.0 481.9,385.6 481.9,386.0 482.0,387.1 482.0,386.8 482.0,386.8 482.1,388.7 482.1,389.2 482.1,390.2 482.2,390.3 482.2,391.4 482.2,392.2 482.3,391.6 482.3,392.8 482.4,393.3 482.4,393.3 482.4,394.4 482.5,395.3 482.5,396.8 482.5,397.4 482.6,396.5 482.6,398.0 482.6,397.1 482.7,397.8 482.7,399.4 482.7,400.9 482.8,399.8 482.8,401.2 483.0,401.2 483.1,400.9 483.3,398.9 483.4,399.2 483.6,399.0 483.7,397.2 483.9,397.4 484.0,396.9 484.2,395.9 484.3,395.9 484.5,395.4 484.6,395.0 484.8,393.4 484.9,391.9 485.1,391.4 485.2,390.7 485.4,390.8 485.7,390.4 486.1,390.4 486.4,388.2 486.8,389.2 487.1,388.2 487.3,388.1 487.5,386.6 487.7,386.4 487.9,385.0 488.1,385.8 488.3,383.5 488.5,385.2 488.7,384.1 488.9,383.1 489.1,381.6 489.3,382.6 489.5,382.1 489.7,380.4 489.8,380.1 489.9,382.3 490.1,383.0 490.2,383.2 490.3,383.9 490.4,383.9 490.5,385.6 490.6,386.4 490.8,385.6 490.9,387.2 491.0,386.9 491.1,386.8 491.2,387.8 491.3,388.0 491.5,390.4 491.6,391.2 491.7,389.8 491.8,391.5 491.9,391.7 492.0,391.6 492.2,392.6 492.3,393.1 492.4,394.3 492.5,394.3 492.6,391.9 492.8,391.7 492.9,391.7 493.0,390.0 493.1,390.9 493.2,390.2 493.4,390.1 493.5,388.0 493.6,387.6 493.7,387.6 493.9,386.3 494.0,386.4 494.1,385.6 494.4,384.4 494.7,384.9 495.0,384.6 495.3,384.0 495.5,383.8 495.8,382.2 496.1,381.5 496.4,381.8 496.7,380.4 496.8,380.4 496.9,379.4 497.0,378.3 497.1,377.5 497.2,376.4 497.3,377.5 497.4,375.3 497.5,376.2 497.6,375.1 497.7,375.5 497.8,374.4 497.9,374.3 498.0,371.7 498.1,371.9 498.2,371.5 498.3,370.3 498.4,370.1 498.5,369.2 498.6,369.0 498.7,367.1 498.8,367.6 498.9,367.0 499.0,366.0 499.1,365.7 499.2,366.0 499.3,364.7 499.4,364.5 499.5,363.5 499.6,363.2 499.6,362.0 499.7,361.0 499.8,359.9 499.9,359.9 500.0,360.1 500.1,360.2 500.1,359.4 500.2,358.1 500.3,358.6 500.4,356.7 500.5,357.0 500.6,355.4 500.7,355.6 500.7,355.6 500.8,353.3 500.9,352.4 501.0,352.6 501.1,352.3 501.2,351.5 501.3,350.5 501.4,349.0 501.6,349.3 501.7,348.8 501.8,348.2 501.9,348.7 502.0,347.4 502.1,347.2 502.2,347.0 502.4,346.0 502.5,344.8 502.6,344.8 502.7,343.9 502.8,343.0 502.9,343.9 503.1,344.5 503.2,344.5 503.4,345.6 503.5,346.2 503.6,347.5 503.8,347.8 503.9,348.5 504.1,348.9 504.2,349.6 504.4,349.7 504.5,350.0 505.1,349.9 505.7,350.0 506.3,350.8 506.4,351.9 506.5,352.9 506.6,352.7 506.7,352.3 506.7,354.6 506.8,354.3 506.9,354.9 507.0,354.5 507.1,356.2 507.2,357.3 507.3,357.2 507.4,357.6 507.5,358.9 507.6,358.0 507.6,359.7 507.7,361.4 507.8,361.4 507.9,361.3 508.0,362.1 508.0,361.9 508.1,361.1 508.1,359.5 508.2,358.9 508.2,359.9 508.3,357.8 508.3,356.7 508.3,357.9 508.4,356.6 508.4,355.6 508.5,355.3 508.5,355.2 508.6,353.3 508.6,353.8 508.6,353.3 508.7,353.0 508.7,351.0 508.8,351.2 508.8,349.7 508.9,349.9 508.9,349.1 509.1,347.7 509.4,348.6 509.6,348.1 509.9,346.2 510.1,345.4 510.4,346.5 510.6,344.8 510.6,344.7 510.7,344.4 510.7,341.9 510.8,343.3 510.8,342.1 510.9,340.7 510.9,340.4 510.9,340.6 511.0,340.0 511.0,338.0 511.1,338.4 511.1,336.7 511.2,338.0 511.2,336.2 511.2,336.7 511.3,335.6 511.3,334.7 511.4,333.3 511.4,333.3 511.5,331.8 511.5,331.2 511.6,332.0 511.6,330.5 511.6,330.8 511.7,329.0 511.7,329.6 511.8,328.9 511.8,327.3 511.9,326.3 511.9,326.6 512.2,325.7 512.4,325.4 512.7,323.8 512.9,323.4 513.2,322.5 513.4,323.2 513.7,323.3 513.9,321.0 514.2,321.1 514.3,320.6 514.4,322.8 514.5,323.7 514.6,324.6 514.7,324.4 514.9,324.3 515.0,326.1 515.1,325.0 515.2,327.0 515.3,326.2 515.4,327.5 515.5,328.3 515.6,328.7 515.7,328.8 515.8,329.5 515.9,331.5 516.1,331.3 516.2,332.2 516.3,331.9 516.4,333.7 516.5,333.4 516.6,334.4 516.7,334.0 516.8,334.2 516.9,333.8 517.0,330.9 517.1,332.1 517.3,331.7 517.4,329.8 517.5,329.4 517.6,329.2 517.7,329.5 517.8,327.6 517.9,328.2 518.0,327.3 518.1,325.2 518.2,326.5 518.4,323.7 518.5,323.4 518.6,324.1 518.7,322.0 518.8,322.2 518.9,321.9 519.0,320.4 519.2,320.6 519.3,321.0 519.5,320.5 519.6,317.8 519.8,317.3 519.9,318.6 520.1,316.1 520.2,316.1 520.4,315.1 520.5,314.5 520.7,313.7 520.8,314.6 521.0,314.3 521.1,313.5 521.2,312.5 521.4,312.7 521.5,311.7 521.7,310.5 521.8,310.5 522.0,310.7 522.1,309.3 522.3,307.8 522.4,306.7 522.6,308.3 522.7,306.8 522.9,305.7 523.0,305.7 523.2,305.0 523.3,304.3 523.5,302.6 523.6,303.1 523.8,302.1 523.9,301.7 524.1,300.5 524.2,301.5 524.4,299.8 524.6,299.8 524.7,299.3 524.9,298.7 525.0,298.1 525.2,296.9 525.2,296.9 525.3,295.1 525.3,296.2 525.4,293.6 525.4,294.8 525.5,294.1 525.5,293.4 525.6,290.9 525.6,290.4 525.7,291.5 525.7,290.1 525.7,289.2 525.8,290.1 525.8,287.2 525.9,287.7 525.9,286.9 526.0,285.6 526.0,285.6 526.1,285.7 526.1,285.5 526.2,282.8 526.2,283.4 526.2,281.8 526.3,282.9 526.3,280.5 526.4,279.8 526.4,280.0 526.5,280.2 526.5,278.6 526.6,277.6 526.6,278.5 526.7,278.0 526.7,276.6 526.8,276.9 526.9,274.9 527.0,274.6 527.1,273.6 527.2,273.7 527.3,272.6 527.3,272.0 527.4,272.4 527.5,272.3 527.6,270.8 527.7,269.0 527.8,269.7 527.9,268.6 528.0,269.3 528.1,268.1 528.2,267.7 528.3,266.8 528.4,265.8 528.5,266.1 528.5,265.3 528.6,263.4 528.7,262.5 528.8,262.4 528.9,262.2 529.0,260.5 529.1,260.9" fill="none" stroke="#4d8ff5" stroke-width="2" stroke-linejoin="round"/>
<polyline points="578.1,463.6 578.2,462.1 578.3,463.2 578.4,462.4 578.5,460.5 578.6,460.5 578.7,459.7 578.8,459.6 578.9,459.3 579.0,458.0 579.5,457.5 579.9,457.8 580.4,459.4 580.6,460.8 580.9,460.4 581.1,461.8 581.3,460.5 581.6,462.2 581.8,462.9 582.3,463.8 582.8,463.0 583.3,465.2 583.8,465.5 584.3,463.8 584.8,464.2 585.3,465.7 585.5,465.2 585.7,465.6 585.9,463.6 586.1,462.7 586.3,462.6 586.5,461.0 586.8,460.9 587.0,460.8 587.2,460.4 587.4,459.1 587.6,458.5 587.8,457.9 588.0,458.0 588.3,458.5 588.6,458.6 588.8,458.5 589.1,461.1 589.4,460.8 589.9,460.5 590.3,460.2 590.8,458.6 591.3,460.1 591.7,459.3 592.2,458.0 592.3,456.5 592.3,456.4 592.4,456.7 592.5,456.1 592.5,456.0 592.6,454.2 592.7,454.5 592.8,453.6 592.8,452.1 592.9,452.1 593.0,452.2 593.0,451.6 593.1,450.1 593.2,449.7 593.2,447.8 593.3,448.3 593.8,447.3 594.3,448.2 594.7,446.9 595.2,445.9 595.7,446.2 596.0,445.8 596.3,445.6 596.5,445.0 596.8,443.7 597.1,443.5 597.2,442.7 597.2,442.3 597.3,442.3 597.4,441.1 597.5,440.1 597.5,439.7 597.6,438.0 597.7,437.4 597.8,438.4 597.8,438.4 597.9,436.9 598.0,435.8 598.1,434.6 598.1,434.8 598.2,435.3 598.3,434.2 598.4,433.0 598.4,433.2 598.5,431.7 598.7,430.4 598.8,430.5 599.0,430.9 599.1,429.4 599.3,428.5 599.4,427.4 599.6,427.5 599.7,427.8 599.9,426.1 600.6,424.6 601.2,425.4 601.4,426.7 601.5,427.4 601.6,428.2 601.7,428.4 601.8,429.2 602.0,429.1 602.1,429.8 602.2,430.3 602.3,429.5 602.3,428.0 602.4,429.4 602.5,428.0 602.5,426.5 602.6,426.7 602.7,426.0 602.8,425.1 602.8,424.5 602.9,424.3 603.0,423.9 603.0,423.3 603.1,422.3 603.2,420.7 603.2,420.6 603.3,420.6 603.4,419.2 603.4,419.6 603.5,419.7 603.6,418.9 603.6,418.3 603.7,417.8 603.7,415.8 603.8,416.6 603.9,415.6 603.9,413.6 604.0,412.8 604.1,412.2 604.1,413.4 604.2,411.6 604.3,410.7 604.3,411.3 604.4,410.0 604.4,408.8 604.5,408.4 604.6,408.7 604.6,407.2 604.7,407.4 605.1,407.5 605.4,409.2 605.8,409.4 605.9,409.9 605.9,410.2 606.0,411.2 606.1,410.8 606.2,412.2 606.2,413.0 606.3,413.0 606.4,413.5 606.5,416.0 606.5,415.7 606.6,415.6 606.7,417.1 606.8,418.3 606.8,417.0 606.9,417.6 607.0,418.5 607.1,420.5 607.1,419.8 607.2,421.2 607.5,421.2 607.9,420.6 608.2,419.7 608.6,418.4 608.9,418.5 609.0,419.0 609.1,418.0 609.2,416.8 609.3,415.5 609.4,415.9 609.5,414.7 609.7,414.5 609.8,413.3 609.9,413.5 610.0,411.5 610.1,411.5 610.2,412.5 610.3,410.8 610.4,412.3 610.6,411.5 610.8,413.5 610.9,412.7 611.0,414.9 611.2,415.0 611.3,414.8 611.5,415.0 611.6,415.0 611.8,417.7 611.9,416.3 612.1,418.8 612.2,419.7 612.4,419.2 612.9,418.8 613.4,417.4 613.9,418.5 614.4,417.1 614.5,418.8 614.7,418.8 614.9,418.9 615.0,419.2 615.1,419.7 615.3,420.0 615.5,421.7 615.6,421.7 615.8,421.7 615.9,422.1 616.0,424.0 616.2,423.7 616.4,424.8 616.5,425.4 616.9,425.5 617.2,427.3 617.5,427.9 617.9,427.5 618.4,426.8 618.8,427.7 619.3,428.5 619.8,430.5 620.2,430.5 620.7,430.3 620.7,429.3 620.8,428.4 620.8,428.9 620.9,428.7 620.9,428.3 621.0,426.3 621.0,427.0 621.1,425.9 621.1,424.8 621.2,425.4 621.2,423.0 621.3,423.6 621.3,421.5 621.4,421.1 621.4,421.2 621.8,422.8 622.1,421.7 622.5,423.6 622.8,423.8 623.1,424.9 623.5,424.7 623.6,425.0 623.8,425.5 624.0,426.0 624.1,428.0 624.2,427.9 624.4,429.3 624.5,429.8 624.7,428.6 624.9,430.2 625.0,429.7 625.1,430.1 625.3,430.8 625.5,433.3 625.6,433.0 625.9,434.3 626.3,435.0 626.6,434.4 626.9,435.6 627.3,436.6 627.6,436.5 628.0,435.6 628.3,435.5 628.7,434.1 629.0,433.2 629.4,433.0 629.7,433.0 629.9,433.4 630.1,432.0 630.2,432.3 630.4,430.6 630.6,429.6 630.8,430.2 630.9,429.8 631.1,427.2 631.3,428.2 631.4,426.3 631.6,425.8 631.8,426.1 632.1,426.4 632.4,423.8 632.7,423.7 633.0,424.9 633.3,422.9 633.6,421.6 633.9,421.9 634.3,420.6 634.6,420.3 635.0,421.0 635.3,419.0 635.7,420.5 636.0,418.7 636.4,418.5 636.6,420.2 636.7,420.7 636.9,419.8 637.1,420.3 637.2,421.4 637.4,421.1 637.6,423.0 637.7,422.1 637.9,422.7 638.1,425.6 638.2,424.5 638.4,425.8 638.6,426.1 638.8,426.8 638.8,427.0 638.8,427.0 638.8,429.6 638.9,430.3 638.9,430.9 638.9,429.5 638.9,430.3 639.0,431.9 639.0,433.4 639.0,432.9 639.0,433.9 639.1,434.4 639.1,434.1 639.1,435.3 639.1,435.4 639.1,435.8 639.2,436.0 639.2,437.1 639.2,439.4 639.2,438.7 639.3,439.8 639.3,440.4 639.3,441.7 639.4,441.0 639.4,441.4 639.4,442.1 639.4,442.6 639.5,444.5 639.5,445.2 639.5,444.4 639.5,445.1 639.6,446.2 639.6,446.9 639.6,447.5 639.6,447.3 639.7,447.3 639.7,448.5 639.7,449.7 639.8,448.1 639.9,448.6 640.0,446.8 640.1,446.2 640.2,446.9 640.3,445.5 640.4,446.1 640.5,444.8 640.6,445.0 640.7,442.7 640.8,442.9 640.9,443.0 641.0,440.7 641.1,442.1 641.2,439.7 641.3,440.5 641.4,440.4 641.5,438.6 642.0,439.0 642.5,437.5 643.1,436.6 643.6,437.2 643.8,436.6 643.9,437.0 644.1,434.9 644.2,435.8 644.4,433.4 644.5,434.6 644.7,431.9 644.8,432.0 645.0,432.8 645.1,432.0 645.2,431.7 645.4,430.9 645.6,430.1 645.7,428.9 645.8,428.8 646.0,426.9 646.1,426.9 646.3,425.7 646.4,426.4 646.5,425.7 646.7,424.1 646.8,423.1 647.0,424.6 647.1,423.6 647.2,422.4 647.4,421.8 647.5,421.9 647.7,420.4 647.8,419.9 648.5,419.8 649.2,419.9 649.9,419.8 650.6,420.6 651.3,419.8 652.0,421.6 652.6,421.4 653.3,421.9 654.0,422.2 654.7,421.1 655.4,422.0 656.1,421.6 656.8,422.6 657.0,421.1 657.1,420.8 657.3,421.6 657.5,420.0 657.6,419.4 657.8,419.0 658.0,418.6 658.1,417.1 658.3,415.9 658.5,416.6 658.6,415.9 658.8,415.6 658.9,414.5 659.1,414.4 659.3,413.9 659.4,412.1 659.6,412.1 660.1,411.7 660.6,411.3 661.2,410.4 661.7,410.4 662.2,410.3 662.4,411.1 662.5,412.5 662.7,413.1 662.9,412.2 663.0,413.7 663.2,412.9 663.4,413.5 663.6,415.2 663.7,416.7 663.9,416.4 664.5,415.4 665.1,416.7 665.6,416.9 666.2,415.3 666.8,416.1 667.4,415.5 667.7,415.8 668.0,414.0 668.3,414.2 668.6,413.8 668.8,412.8 669.1,412.9 669.4,412.4 669.7,412.0 670.0,410.3 670.2,409.9 670.3,408.3 670.5,407.9 670.6,407.2 670.8,407.4 670.9,407.2 671.1,404.9 671.2,405.8 671.4,405.3 671.5,403.8 671.7,403.6 671.8,402.2 672.0,402.9 672.1,400.6 672.3,402.3 672.4,401.3 672.6,399.9 672.8,399.6 672.9,398.2 673.1,399.2 673.3,398.7 673.5,396.1 673.6,397.1 673.8,396.7 674.0,395.6 674.2,395.2 674.3,394.0 674.5,394.5 674.7,394.1 674.9,392.1 675.0,392.5 675.2,391.2 675.8,390.8 676.3,389.9 676.9,390.4 677.0,389.4 677.1,388.3 677.1,389.6 677.2,389.1 677.3,386.5 677.4,387.1 677.5,386.0 677.6,384.7 677.6,384.6 677.7,383.8 677.8,384.4 677.9,382.1 678.0,381.9 678.0,381.9 678.1,380.3 678.2,381.2 678.3,380.5 678.4,380.5 678.5,378.4 678.5,378.0 678.6,378.0 678.7,377.3 678.8,376.1 678.8,376.3 678.9,374.8 678.9,375.3 679.0,374.9 679.1,374.3 679.1,374.1 679.2,372.5 679.2,371.7 679.3,372.0 679.4,371.1 679.4,370.1 679.5,369.0 679.5,368.1 679.6,367.1 679.7,368.2 679.7,365.9 679.8,366.8 679.9,365.7 679.9,366.1 680.0,365.0 680.0,364.8 680.1,362.2 680.2,362.5 680.2,362.0 680.3,360.8 680.3,360.6 680.4,360.0 680.6,359.0 680.8,358.8 681.1,356.9 681.3,357.4 681.4,357.9 681.5,358.5 681.5,358.8 681.6,359.6 681.7,361.2 681.8,361.6 681.9,361.7 681.9,362.7 682.0,362.7 682.1,362.9 682.2,363.0 682.3,364.3 682.4,365.7 682.4,367.0 682.5,367.5 682.6,367.3 682.7,369.1 682.8,368.5 682.8,370.0 682.9,369.6 683.0,370.4 683.1,370.4 683.1,370.4 683.2,368.1 683.3,367.2 683.3,367.7 683.4,366.9 683.5,365.8 683.5,364.4 683.6,364.7 683.7,364.2 683.7,363.5 683.8,364.0 683.9,362.8 683.9,362.5 684.0,362.3 684.0,361.3 684.1,360.1 684.2,360.1 684.2,359.3 684.3,358.7 684.4,358.0 684.4,356.9 684.5,356.8 684.6,356.2 684.6,356.4 684.7,354.7 684.8,354.8 684.9,354.3 685.0,353.5 685.1,353.0 685.2,351.9 685.3,350.7 685.4,349.9 685.5,350.4 685.6,350.2 685.8,348.8 685.9,347.2 686.0,348.2 686.1,346.8 686.2,346.2 686.3,344.5 686.4,345.0 686.5,345.0 686.6,343.6 686.7,342.9 686.8,342.6 686.9,343.6 687.0,342.7 687.1,344.5 687.2,346.2 687.3,346.2 687.4,346.1 687.5,347.4 687.6,347.8 687.7,347.5 687.8,348.1 687.9,350.4 688.0,349.5 688.1,349.7 688.2,351.3 688.3,351.5 688.4,350.1 688.6,349.1 688.7,348.9 688.8,348.8 688.9,346.8 689.1,347.3 689.2,346.9 689.3,346.5 689.4,344.6 689.6,344.8 689.7,343.2 689.8,343.4 689.9,341.9 690.1,342.7 690.2,342.3 690.3,340.8 690.7,341.0 691.1,341.3 691.5,343.7 691.8,343.6 692.2,344.5 692.6,344.3 692.8,342.6 692.9,344.0 693.1,342.8 693.3,341.4 693.5,341.1 693.6,341.3 693.8,340.7 694.0,338.7 694.1,339.1 694.3,338.2 694.4,338.0 694.5,340.5 694.6,339.9 694.7,341.6 694.8,341.7 694.9,342.1 695.0,341.8 695.1,343.1 695.3,342.7 695.4,343.3 695.5,345.3 695.6,345.1 695.7,346.6 695.8,346.0 695.9,347.7 696.0,347.8 696.2,347.7 696.4,346.2 696.6,345.1 696.8,345.2 697.0,344.9 697.2,343.4 697.4,343.0 697.6,342.1 697.8,342.6 697.9,343.5 697.9,344.8 698.0,343.8 698.0,343.9 698.1,346.2 698.1,347.1 698.2,348.0 698.2,347.8 698.3,347.8 698.3,349.6 698.4,348.5 698.5,350.5 698.5,349.6 698.6,351.0 698.6,351.8 698.7,352.2 698.7,352.3 698.8,353.0 698.8,355.1 698.9,354.8 699.0,355.7 699.0,355.5 699.1,357.3 699.1,357.0 699.2,358.2 699.2,359.6 699.3,360.4 699.3,358.8 699.4,361.2 699.4,361.9 699.5,361.7 700.0,360.9 700.5,360.7 701.1,360.9 701.6,361.3 702.1,360.0 702.3,360.4 702.4,362.2 702.6,362.5 702.8,361.7 702.9,364.1 703.1,362.6 703.2,363.5 703.4,365.4 703.6,364.6 703.7,366.0 703.9,366.9 704.3,366.5 704.8,367.8 705.2,369.2 705.7,369.9 706.1,368.3 706.6,368.8 707.0,370.4 707.1,370.6 707.2,368.1 707.3,368.1 707.4,367.1 707.5,366.4 707.6,365.7 707.7,366.5 707.8,366.2 707.9,365.4 708.0,365.2 708.1,364.2 708.2,362.9 708.3,362.9 708.4,363.1 708.5,361.7 708.6,360.2 708.7,359.1 708.8,360.6 708.9,359.2 709.0,358.0 709.1,358.1 709.2,357.3 709.3,356.7 709.4,354.9 709.5,355.0 709.6,354.6 709.7,353.5 709.8,354.5 709.9,353.0 710.2,352.3 710.5,352.3 710.9,351.9 711.2,351.4 711.5,350.8 711.9,350.4 712.2,348.6 712.5,348.7 713.1,349.5 713.7,347.3 714.3,347.8 714.4,349.4 714.5,349.9 714.7,350.5 714.8,349.2 714.9,349.9 715.0,352.3 715.1,352.1 715.3,352.5 715.4,354.6 715.5,352.9 715.6,354.7 715.8,355.1 715.9,355.0 716.0,356.5 716.1,355.6 716.2,355.8 716.3,355.6 716.3,352.9 716.4,353.5 716.5,351.8 716.6,352.9 716.7,350.6 716.8,349.8 716.9,350.0 716.9,350.2 717.0,348.6 717.1,347.6 717.2,348.5 717.3,348.0 717.4,347.4 717.5,345.5 717.5,345.2 717.6,344.1 717.7,344.3 717.8,343.5 717.9,342.5 718.1,341.9 718.2,342.4 718.4,342.3 718.5,340.8 718.6,339.1 718.8,339.8 718.9,338.7 719.1,339.4 719.2,338.2 719.4,337.9 719.5,336.5 719.9,337.4 720.4,337.5 720.8,338.8 721.2,339.0 721.7,338.2 722.1,339.1" fill="none" stroke="#2db84d" stroke-width="2" stroke-linejoin="round"/>
<polyline points="774.0,467.8 774.4,466.4 774.8,467.5 775.3,466.8 775.7,465.0 776.1,465.0 776.6,465.5 777.0,465.8 777.5,466.4 778.2,466.8 778.9,467.1 779.6,466.4 779.7,464.8 779.8,464.1 779.9,465.4 780.0,463.8 780.0,464.0 780.1,461.6 780.2,462.0 780.3,462.1 780.4,460.3 780.5,461.4 780.6,460.7 780.6,458.0 780.7,457.4 780.8,458.0 780.9,458.4 781.0,456.7 781.2,455.8 781.4,454.8 781.5,454.7 781.7,453.1 781.9,453.0 782.0,452.9 782.2,452.4 782.4,451.8 782.9,451.7 783.4,452.2 783.9,452.7 784.4,453.9 784.6,453.2 784.8,452.2 785.0,451.0 785.2,452.3 785.4,451.0 785.6,450.6 785.8,449.7 786.1,449.5 786.5,451.9 786.9,452.1 787.2,451.8 787.3,451.5 787.4,452.6 787.5,454.2 787.6,454.8 787.8,455.9 787.9,455.3 788.0,456.9 788.1,457.2 788.2,456.9 788.3,458.0 788.3,457.6 788.4,457.7 788.4,457.0 788.5,455.6 788.5,455.2 788.6,453.3 788.6,453.2 788.6,453.9 788.7,452.4 788.7,451.2 788.8,451.5 788.8,451.3 788.9,450.6 788.9,449.3 789.0,448.9 789.0,448.4 789.0,448.5 789.1,447.3 789.1,446.3 789.2,446.0 789.2,444.3 789.3,443.7 789.3,444.2 790.0,444.5 790.7,444.9 791.4,443.5 791.9,443.2 792.5,442.2 793.0,441.1 793.5,441.4 794.0,441.9 794.5,443.6 795.1,443.6 795.6,443.5 796.1,444.1 796.6,445.4 797.1,444.4 797.6,445.6 798.3,445.8 799.0,447.1 799.7,446.2 800.1,446.9 800.5,447.2 801.0,447.2 801.4,448.3 801.5,447.8 801.6,448.1 801.7,445.2 801.8,446.4 801.9,445.9 802.0,445.4 802.0,444.4 802.1,444.0 802.2,442.6 802.3,442.1 802.4,441.2 802.5,440.7 803.0,439.3 803.5,440.9 804.1,439.8 804.6,439.3 805.1,439.1 805.7,440.4 806.2,440.8 806.7,441.4 807.4,441.2 808.0,441.4 808.7,442.0 809.4,442.1 809.6,443.0 809.8,443.6 810.0,443.8 810.2,443.3 810.4,444.4 810.6,444.9 810.8,446.2 811.3,447.0 811.8,448.1 812.4,448.5 812.9,448.3 813.3,448.5 813.7,448.0 814.2,446.1 814.6,447.0 815.0,445.6 815.7,445.8 816.4,444.2 817.1,443.9 817.8,444.9 817.9,443.1 818.0,444.3 818.1,442.5 818.2,441.5 818.3,442.2 818.4,440.9 818.5,439.6 818.5,439.2 818.6,439.5 818.7,438.0 818.8,437.7 818.9,438.1 819.0,436.9 819.1,436.0 819.2,435.8 819.6,435.2 820.0,433.5 820.4,433.8 820.8,433.4 821.2,433.0 821.8,431.8 822.3,431.1 822.8,432.5 823.3,431.0 823.5,430.4 823.8,429.1 824.0,429.4 824.2,429.3 824.5,426.7 824.7,426.1 824.9,425.8 825.2,426.5 825.4,425.4 826.1,424.6 826.8,425.9 827.5,425.4 827.9,425.3 828.3,424.4 828.8,423.0 829.2,424.3 829.6,422.6 829.8,423.9 830.1,423.9 830.3,423.8 830.5,425.4 830.8,425.5 831.0,426.5 831.2,426.5 831.5,427.9 831.7,428.2 832.0,426.5 832.2,426.5 832.5,427.5 832.7,426.7 833.0,424.7 833.2,425.4 833.5,423.5 833.8,423.3 833.9,423.7 834.0,422.7 834.2,421.3 834.4,420.3 834.5,419.1 834.6,420.5 834.8,417.9 835.0,419.2 835.1,417.8 835.6,418.4 836.0,417.0 836.5,416.4 836.6,415.0 836.6,416.1 836.7,415.7 836.8,414.5 836.8,413.4 836.9,412.5 836.9,411.8 837.0,410.9 837.1,411.4 837.1,410.2 837.2,409.1 837.3,408.3 837.3,409.0 837.4,407.5 837.5,407.4 837.5,406.4 837.6,407.1 837.6,406.6 837.7,403.8 837.8,403.7 837.8,403.4 837.9,403.2 838.6,404.6 839.3,404.3 840.0,403.9 840.5,403.9 841.0,403.9 841.6,405.4 842.1,405.3 842.4,406.7 842.6,407.5 842.9,406.6 843.1,408.5 843.4,408.6 843.7,408.7 843.9,410.5 844.2,409.2 844.4,411.0 844.7,411.0 845.0,409.4 845.3,409.0 845.6,410.1 845.9,407.8 846.2,407.9 846.5,407.9 846.8,407.0 847.1,406.9 847.4,405.2 847.7,404.6 848.0,403.8 848.3,403.8 849.0,404.8 849.7,404.4 850.4,404.3 850.6,406.0 850.9,406.4 851.1,405.2 851.4,406.8 851.6,406.3 851.9,406.7 852.1,407.4 852.4,409.9 852.6,410.3 852.9,411.0 853.1,410.4 853.4,411.6 853.6,412.6 853.9,412.2 854.1,413.1 854.3,412.7 854.4,411.2 854.6,410.3 854.8,410.1 854.9,411.0 855.1,409.6 855.3,409.9 855.4,408.1 855.6,407.1 855.8,407.7 855.9,407.2 856.1,405.8 856.2,405.2 856.4,407.4 856.5,406.6 856.7,407.2 856.8,409.7 856.9,408.3 857.1,409.3 857.2,411.7 857.4,411.0 857.5,410.8 857.6,411.5 857.8,412.3 857.9,414.1 858.1,413.2 858.2,414.7 858.4,415.1 858.6,413.2 858.8,414.0 859.0,413.2 859.2,411.1 859.3,410.4 859.5,410.3 859.7,408.8 859.9,409.5 860.1,407.4 860.3,407.9 860.5,407.3 860.7,410.3 860.9,409.3 861.1,410.6 861.3,410.9 861.4,411.2 861.6,411.2 861.8,413.8 862.0,414.6 862.2,415.2 862.4,414.7 862.6,413.2 862.8,412.8 863.0,413.2 863.3,413.4 863.5,411.8 863.7,411.5 863.9,410.8 864.1,409.3 864.4,409.3 864.6,408.2 864.8,407.4 865.0,407.4 865.5,406.9 866.0,407.9 866.6,410.1 867.1,409.5 867.4,408.8 867.6,408.7 867.9,408.1 868.2,408.2 868.4,406.3 868.7,405.5 868.9,405.0 869.2,404.8 869.5,403.7 869.8,404.4 870.1,403.9 870.4,401.8 870.7,401.7 870.8,400.7 870.9,400.6 870.9,400.1 871.0,399.5 871.1,398.1 871.2,396.9 871.2,396.9 871.3,395.9 871.4,396.4 871.5,394.7 871.6,394.1 871.6,394.8 871.7,393.4 871.8,393.3 872.0,393.4 872.2,392.1 872.4,392.4 872.7,390.1 872.9,390.4 873.1,390.5 873.3,389.2 873.7,387.7 874.2,389.2 874.6,386.8 875.0,387.7 875.5,387.7 875.9,386.0 876.2,387.4 876.4,386.8 876.7,386.9 877.0,388.5 877.2,390.1 877.5,389.7 878.2,389.5 878.9,391.3 879.6,390.7 879.9,389.3 880.1,390.5 880.4,387.8 880.7,387.9 880.9,388.7 881.2,387.9 881.4,387.6 881.7,386.0 882.0,387.4 882.4,387.7 882.7,388.1 883.1,387.4 883.4,388.5 883.8,389.2 884.3,388.9 884.8,390.7 885.3,391.1 885.8,391.2 886.0,391.3 886.1,391.5 886.3,394.2 886.4,394.5 886.6,394.5 886.8,395.1 886.9,396.5 887.1,396.1 887.2,396.6 887.4,397.5 887.9,396.6 888.5,395.9 889.0,394.8 889.5,395.4 889.8,396.4 890.1,396.4 890.4,397.4 890.7,396.7 891.0,398.1 891.3,398.1 891.6,399.6 891.7,398.1 891.9,397.8 892.0,398.6 892.1,397.0 892.3,396.4 892.4,396.3 892.5,394.8 892.7,393.7 892.8,394.3 892.9,393.7 893.1,393.4 893.2,392.3 893.3,392.3 893.5,391.8 893.6,390.7 894.0,389.5 894.3,389.5 894.7,388.8 895.0,387.6 895.4,387.5 895.7,387.1 896.1,386.7 896.4,387.0 896.8,386.6 897.1,384.5 897.4,384.9 897.8,384.0 898.2,383.4 898.6,384.0 899.1,385.6 899.5,387.0 899.9,386.6 900.6,385.9 901.3,387.6 902.0,387.1 902.3,387.4 902.5,385.5 902.8,385.8 903.0,385.6 903.3,383.9 903.6,384.1 903.8,383.6 904.1,382.4 904.6,382.2 905.1,382.5 905.6,382.2 906.1,380.8 906.8,381.7 907.4,380.5 908.1,379.3 908.8,379.8 909.1,379.8 909.4,380.3 909.7,381.7 910.1,382.8 910.4,381.7 910.7,383.8 911.1,384.4 911.4,384.5 911.9,383.7 912.4,383.7 913.0,382.4 913.5,383.3 914.0,381.2 914.5,381.9" fill="none" stroke="#000" stroke-width="2" stroke-linejoin="round"/>
<rect x="160" y="148.10" width="756" height="1.5" fill="#676767"/>
<rect x="160" y="191.34" width="756" height="1.5" fill="#676767"/>
<rect x="160" y="238.11" width="756" height="1.5" fill="#676767"/>
<rect x="160" y="275.92" width="756" height="1.5" fill="#676767"/>
<rect x="160" y="313.72" width="756" height="1.5" fill="#676767"/>
<rect x="915.5" y="117" width="1" height="351" fill="#fbe9df"/>
<text x="25" y="550.6" font-size="12.9" fill="#7a7a7a">© 2025 Glassnode. All Rights Reserved.</text>
<g fill="none" stroke="#1b1b1b" stroke-width="2.7"><circle cx="879" cy="547" r="5.85"/><path d="M884.85,540.3 V555.6 Q884.85,558.45 879.2,558.45 Q875.6,558.45 873.6,556.6"/><path d="M890.95,534.5 V554"/><circle cx="901.9" cy="547" r="5.45"/><path d="M907.35,540.3 V554"/><path d="M921.3,543 C920.3,541.3 918.8,540.4 916.9,540.4 C914.4,540.4 912.9,541.7 912.9,543.4 C912.9,547.4 921.1,545.6 921.1,550.2 C921.1,552.3 919.3,553.4 917,553.4 C914.8,553.4 913.2,552.4 912.1,550.6"/><path d="M932.2,543 C931.3,541.3 929.9,540.4 928.2,540.4 C925.9,540.4 924.5,541.7 924.5,543.4 C924.5,547.4 932.1,545.6 932.1,550.2 C932.1,552.3 930.4,553.4 928.3,553.4 C926.3,553.4 924.8,552.4 923.8,550.6"/><path d="M937.15,554 V545.3 C937.15,542.2 939.3,540.4 942,540.4 C944.9,540.4 946.75,542.2 946.75,545.3 V554"/><circle cx="957.55" cy="547.1" r="5.95"/><circle cx="973.2" cy="547.1" r="5.95"/><path d="M979.25,535.4 V554"/><path d="M984.1,547.3 H995.2 A5.6,5.6 0 1 0 993.3,551.5"/></g>
</svg></body></html>
